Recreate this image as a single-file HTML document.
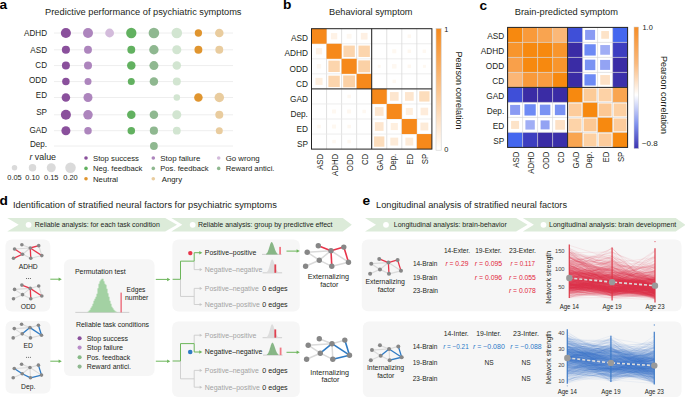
<!DOCTYPE html>
<html><head><meta charset="utf-8"><style>
html,body{margin:0;padding:0;background:#fff;}
svg{display:block;font-family:"Liberation Sans", sans-serif;}
</style></head><body>
<svg width="685" height="397" viewBox="0 0 685 397" font-family='"Liberation Sans", sans-serif'>
<rect width="685" height="397" fill="#fff"/>
<text x="-0.40" y="9.10" font-size="13" text-anchor="start" fill="#000" font-weight="bold" textLength="7.60" lengthAdjust="spacingAndGlyphs">a</text>
<text x="283.00" y="9.40" font-size="13" text-anchor="start" fill="#000" font-weight="bold" textLength="8.40" lengthAdjust="spacingAndGlyphs">b</text>
<text x="479.40" y="9.50" font-size="13" text-anchor="start" fill="#000" font-weight="bold" textLength="7.60" lengthAdjust="spacingAndGlyphs">c</text>
<text x="-0.40" y="204.90" font-size="13" text-anchor="start" fill="#000" font-weight="bold" textLength="8.40" lengthAdjust="spacingAndGlyphs">d</text>
<text x="362.40" y="205.00" font-size="13" text-anchor="start" fill="#000" font-weight="bold" textLength="7.60" lengthAdjust="spacingAndGlyphs">e</text>
<text x="45.10" y="14.60" font-size="9.2" text-anchor="start" fill="#231f20" textLength="196.40" lengthAdjust="spacingAndGlyphs">Predictive performance of psychiatric symptoms</text>
<line x1="54.00" y1="33.00" x2="233.00" y2="33.00" stroke="#eeeeee" stroke-width="1"/>
<text x="47.00" y="36.30" font-size="8.8" text-anchor="end" fill="#231f20" textLength="22.95" lengthAdjust="spacingAndGlyphs">ADHD</text>
<circle cx="65.90" cy="33.00" r="5.05" fill="#8a509c"/>
<circle cx="88.00" cy="33.00" r="5.00" fill="#ad85bd"/>
<circle cx="109.60" cy="33.00" r="4.40" fill="#d3bbdb"/>
<circle cx="131.30" cy="33.00" r="5.15" fill="#62b160"/>
<circle cx="153.90" cy="33.00" r="5.30" fill="#8fb890"/>
<circle cx="176.80" cy="33.00" r="5.30" fill="#d2e5d1"/>
<circle cx="198.40" cy="33.00" r="3.65" fill="#e0952f"/>
<circle cx="219.30" cy="33.00" r="4.25" fill="#e9cc9e"/>
<line x1="54.00" y1="49.80" x2="233.00" y2="49.80" stroke="#eeeeee" stroke-width="1"/>
<text x="47.00" y="53.10" font-size="8.8" text-anchor="end" fill="#231f20" textLength="16.65" lengthAdjust="spacingAndGlyphs">ASD</text>
<circle cx="65.90" cy="49.80" r="4.05" fill="#8a509c"/>
<circle cx="88.00" cy="49.80" r="3.95" fill="#ad85bd"/>
<circle cx="131.30" cy="49.80" r="3.95" fill="#62b160"/>
<circle cx="153.90" cy="49.80" r="4.70" fill="#8fb890"/>
<circle cx="176.80" cy="49.80" r="4.55" fill="#d2e5d1"/>
<circle cx="198.40" cy="49.80" r="3.95" fill="#e0952f"/>
<circle cx="219.30" cy="49.80" r="3.95" fill="#e9cc9e"/>
<line x1="54.00" y1="65.60" x2="233.00" y2="65.60" stroke="#eeeeee" stroke-width="1"/>
<text x="47.00" y="67.90" font-size="8.8" text-anchor="end" fill="#231f20" textLength="11.70" lengthAdjust="spacingAndGlyphs">CD</text>
<circle cx="65.90" cy="65.60" r="4.00" fill="#8a509c"/>
<circle cx="88.00" cy="65.60" r="4.00" fill="#ad85bd"/>
<circle cx="131.30" cy="65.60" r="4.25" fill="#62b160"/>
<circle cx="153.90" cy="65.60" r="4.50" fill="#8fb890"/>
<circle cx="176.80" cy="65.60" r="4.25" fill="#d2e5d1"/>
<line x1="54.00" y1="81.60" x2="233.00" y2="81.60" stroke="#eeeeee" stroke-width="1"/>
<text x="47.00" y="83.20" font-size="8.8" text-anchor="end" fill="#231f20" textLength="18.00" lengthAdjust="spacingAndGlyphs">ODD</text>
<circle cx="65.90" cy="81.60" r="3.75" fill="#8a509c"/>
<circle cx="88.00" cy="81.60" r="3.50" fill="#ad85bd"/>
<circle cx="131.30" cy="81.60" r="3.50" fill="#62b160"/>
<circle cx="153.90" cy="81.60" r="4.25" fill="#8fb890"/>
<circle cx="176.80" cy="81.60" r="4.00" fill="#d2e5d1"/>
<line x1="54.00" y1="97.50" x2="233.00" y2="97.50" stroke="#eeeeee" stroke-width="1"/>
<text x="47.00" y="98.40" font-size="8.8" text-anchor="end" fill="#231f20" textLength="11.25" lengthAdjust="spacingAndGlyphs">ED</text>
<circle cx="65.90" cy="97.50" r="4.25" fill="#8a509c"/>
<circle cx="88.00" cy="97.50" r="4.50" fill="#ad85bd"/>
<circle cx="176.80" cy="97.50" r="3.25" fill="#d2e5d1"/>
<circle cx="198.40" cy="97.50" r="4.25" fill="#e0952f"/>
<circle cx="219.30" cy="97.50" r="4.75" fill="#e9cc9e"/>
<line x1="54.00" y1="114.80" x2="233.00" y2="114.80" stroke="#eeeeee" stroke-width="1"/>
<text x="47.00" y="115.10" font-size="8.8" text-anchor="end" fill="#231f20" textLength="10.81" lengthAdjust="spacingAndGlyphs">SP</text>
<circle cx="65.90" cy="114.80" r="5.00" fill="#8a509c"/>
<circle cx="88.00" cy="114.80" r="4.75" fill="#ad85bd"/>
<circle cx="131.30" cy="114.80" r="4.25" fill="#62b160"/>
<circle cx="153.90" cy="114.80" r="4.25" fill="#8fb890"/>
<circle cx="176.80" cy="114.80" r="4.50" fill="#d2e5d1"/>
<circle cx="219.30" cy="114.80" r="4.00" fill="#e9cc9e"/>
<line x1="54.00" y1="130.70" x2="233.00" y2="130.70" stroke="#eeeeee" stroke-width="1"/>
<text x="47.00" y="133.00" font-size="8.8" text-anchor="end" fill="#231f20" textLength="17.55" lengthAdjust="spacingAndGlyphs">GAD</text>
<circle cx="65.90" cy="130.70" r="4.50" fill="#8a509c"/>
<circle cx="88.00" cy="130.70" r="3.75" fill="#ad85bd"/>
<circle cx="131.30" cy="130.70" r="3.75" fill="#62b160"/>
<circle cx="153.90" cy="130.70" r="4.10" fill="#8fb890"/>
<circle cx="176.80" cy="130.70" r="3.90" fill="#d2e5d1"/>
<circle cx="219.30" cy="130.70" r="3.50" fill="#e9cc9e"/>
<line x1="54.00" y1="146.00" x2="233.00" y2="146.00" stroke="#eeeeee" stroke-width="1"/>
<text x="47.00" y="147.20" font-size="8.8" text-anchor="end" fill="#231f20" textLength="17.11" lengthAdjust="spacingAndGlyphs">Dep.</text>
<circle cx="153.90" cy="146.00" r="3.90" fill="#8fb890"/>
<text x="29.50" y="160.20" font-size="8.9" text-anchor="start" fill="#231f20" font-style="italic">r</text>
<text x="34.80" y="160.20" font-size="8.9" text-anchor="start" fill="#231f20" textLength="21.20" lengthAdjust="spacingAndGlyphs">value</text>
<circle cx="14.50" cy="167.70" r="2.75" fill="#dadada"/>
<text x="14.50" y="180.20" font-size="7.4" text-anchor="middle" fill="#231f20" textLength="14.50" lengthAdjust="spacingAndGlyphs">0.05</text>
<circle cx="32.50" cy="167.70" r="3.75" fill="#dadada"/>
<text x="32.50" y="180.20" font-size="7.4" text-anchor="middle" fill="#231f20" textLength="14.50" lengthAdjust="spacingAndGlyphs">0.10</text>
<circle cx="51.25" cy="167.70" r="4.50" fill="#dadada"/>
<text x="51.25" y="180.20" font-size="7.4" text-anchor="middle" fill="#231f20" textLength="14.50" lengthAdjust="spacingAndGlyphs">0.15</text>
<circle cx="70.50" cy="167.70" r="5.25" fill="#dadada"/>
<text x="70.50" y="180.20" font-size="7.4" text-anchor="middle" fill="#231f20" textLength="14.50" lengthAdjust="spacingAndGlyphs">0.20</text>
<circle cx="86.00" cy="158.00" r="1.80" fill="#8a509c"/>
<text x="93.00" y="160.70" font-size="7.8" text-anchor="start" fill="#231f20" textLength="45.90" lengthAdjust="spacingAndGlyphs">Stop success</text>
<circle cx="86.00" cy="168.40" r="1.80" fill="#62b160"/>
<text x="93.00" y="171.10" font-size="7.8" text-anchor="start" fill="#231f20" textLength="49.40" lengthAdjust="spacingAndGlyphs">Neg. feedback</text>
<circle cx="86.00" cy="178.80" r="1.80" fill="#e0952f"/>
<text x="93.00" y="181.50" font-size="7.8" text-anchor="start" fill="#231f20" textLength="25.10" lengthAdjust="spacingAndGlyphs">Neutral</text>
<circle cx="153.30" cy="158.00" r="1.80" fill="#ad85bd"/>
<text x="160.30" y="160.70" font-size="7.8" text-anchor="start" fill="#231f20" textLength="40.00" lengthAdjust="spacingAndGlyphs">Stop failure</text>
<circle cx="153.30" cy="168.40" r="1.80" fill="#8fb890"/>
<text x="160.30" y="171.10" font-size="7.8" text-anchor="start" fill="#231f20" textLength="48.20" lengthAdjust="spacingAndGlyphs">Pos. feedback</text>
<circle cx="153.30" cy="178.80" r="1.80" fill="#e9cc9e"/>
<text x="161.70" y="181.50" font-size="7.8" text-anchor="start" fill="#231f20" textLength="20.40" lengthAdjust="spacingAndGlyphs">Angry</text>
<circle cx="218.70" cy="158.00" r="1.80" fill="#d3bbdb"/>
<text x="225.70" y="160.70" font-size="7.8" text-anchor="start" fill="#231f20" textLength="34.00" lengthAdjust="spacingAndGlyphs">Go wrong</text>
<circle cx="218.70" cy="168.40" r="1.80" fill="#8fb890"/>
<text x="225.70" y="171.10" font-size="7.8" text-anchor="start" fill="#231f20" textLength="48.80" lengthAdjust="spacingAndGlyphs">Reward antici.</text>
<text x="329.10" y="14.60" font-size="9.2" text-anchor="start" fill="#231f20" textLength="83.40" lengthAdjust="spacingAndGlyphs">Behavioral symptom</text>
<line x1="326.55" y1="28.70" x2="326.55" y2="149.10" stroke="#d9d9d9" stroke-width="0.8"/>
<line x1="311.50" y1="43.75" x2="431.90" y2="43.75" stroke="#e8e8e8" stroke-width="0.8"/>
<line x1="341.60" y1="28.70" x2="341.60" y2="149.10" stroke="#d9d9d9" stroke-width="0.8"/>
<line x1="311.50" y1="58.80" x2="431.90" y2="58.80" stroke="#e8e8e8" stroke-width="0.8"/>
<line x1="356.65" y1="28.70" x2="356.65" y2="149.10" stroke="#d9d9d9" stroke-width="0.8"/>
<line x1="311.50" y1="73.85" x2="431.90" y2="73.85" stroke="#e8e8e8" stroke-width="0.8"/>
<line x1="371.70" y1="28.70" x2="371.70" y2="149.10" stroke="#d9d9d9" stroke-width="0.8"/>
<line x1="311.50" y1="88.90" x2="431.90" y2="88.90" stroke="#e8e8e8" stroke-width="0.8"/>
<line x1="386.75" y1="28.70" x2="386.75" y2="149.10" stroke="#d9d9d9" stroke-width="0.8"/>
<line x1="311.50" y1="103.95" x2="431.90" y2="103.95" stroke="#e8e8e8" stroke-width="0.8"/>
<line x1="401.80" y1="28.70" x2="401.80" y2="149.10" stroke="#d9d9d9" stroke-width="0.8"/>
<line x1="311.50" y1="119.00" x2="431.90" y2="119.00" stroke="#e8e8e8" stroke-width="0.8"/>
<line x1="416.85" y1="28.70" x2="416.85" y2="149.10" stroke="#d9d9d9" stroke-width="0.8"/>
<line x1="311.50" y1="134.05" x2="431.90" y2="134.05" stroke="#e8e8e8" stroke-width="0.8"/>
<rect x="311.50" y="28.70" width="15.05" height="15.05" fill="#f6891b"/>
<rect x="330.93" y="33.08" width="6.30" height="6.30" fill="#fef2e6"/>
<rect x="346.73" y="33.83" width="4.80" height="4.80" fill="#fef8f1"/>
<rect x="360.82" y="32.88" width="6.70" height="6.70" fill="#fef0e3"/>
<rect x="407.57" y="34.48" width="3.50" height="3.50" fill="#fef8f1"/>
<rect x="315.88" y="48.12" width="6.30" height="6.30" fill="#fef2e6"/>
<rect x="326.55" y="43.75" width="15.05" height="15.05" fill="#f6891b"/>
<rect x="343.43" y="45.57" width="11.40" height="11.40" fill="#fcd5ad"/>
<rect x="358.47" y="45.57" width="11.40" height="11.40" fill="#fcd5ad"/>
<rect x="392.27" y="49.27" width="4.00" height="4.00" fill="#fef8f1"/>
<rect x="407.57" y="49.52" width="3.50" height="3.50" fill="#fef8f1"/>
<rect x="422.62" y="49.52" width="3.50" height="3.50" fill="#fef8f1"/>
<rect x="316.82" y="64.12" width="4.40" height="4.40" fill="#fef8f1"/>
<rect x="328.38" y="60.62" width="11.40" height="11.40" fill="#fcd5ad"/>
<rect x="341.60" y="58.80" width="15.05" height="15.05" fill="#f6891b"/>
<rect x="358.22" y="60.38" width="11.90" height="11.90" fill="#fbd1a6"/>
<rect x="377.72" y="64.83" width="3.00" height="3.00" fill="#fef8f1"/>
<rect x="392.02" y="64.08" width="4.50" height="4.50" fill="#fef8f1"/>
<rect x="407.57" y="64.58" width="3.50" height="3.50" fill="#fef8f1"/>
<rect x="422.88" y="64.83" width="3.00" height="3.00" fill="#fef8f1"/>
<rect x="315.47" y="77.83" width="7.10" height="7.10" fill="#feefdf"/>
<rect x="328.38" y="75.68" width="11.40" height="11.40" fill="#fcd5ad"/>
<rect x="343.18" y="75.43" width="11.90" height="11.90" fill="#fbd1a6"/>
<rect x="356.65" y="73.85" width="15.05" height="15.05" fill="#f6891b"/>
<rect x="392.52" y="79.63" width="3.50" height="3.50" fill="#fef8f1"/>
<rect x="347.38" y="94.68" width="3.50" height="3.50" fill="#fef8f1"/>
<rect x="371.70" y="88.90" width="15.05" height="15.05" fill="#f6891b"/>
<rect x="389.92" y="92.08" width="8.70" height="8.70" fill="#fde6cf"/>
<rect x="404.97" y="92.08" width="8.70" height="8.70" fill="#fde6cf"/>
<rect x="419.23" y="91.28" width="10.30" height="10.30" fill="#fcddbc"/>
<rect x="332.07" y="109.48" width="4.00" height="4.00" fill="#fef8f1"/>
<rect x="347.12" y="109.48" width="4.00" height="4.00" fill="#fef8f1"/>
<rect x="362.42" y="109.73" width="3.50" height="3.50" fill="#fef8f1"/>
<rect x="374.87" y="107.13" width="8.70" height="8.70" fill="#fde6cf"/>
<rect x="386.75" y="103.95" width="15.05" height="15.05" fill="#f6891b"/>
<rect x="405.77" y="107.93" width="7.10" height="7.10" fill="#feefdf"/>
<rect x="420.57" y="107.68" width="7.60" height="7.60" fill="#feecdb"/>
<rect x="317.27" y="124.78" width="3.50" height="3.50" fill="#fef8f1"/>
<rect x="332.07" y="124.53" width="4.00" height="4.00" fill="#fef8f1"/>
<rect x="347.38" y="124.78" width="3.50" height="3.50" fill="#fef8f1"/>
<rect x="374.87" y="122.18" width="8.70" height="8.70" fill="#fde6cf"/>
<rect x="390.72" y="122.98" width="7.10" height="7.10" fill="#feefdf"/>
<rect x="401.80" y="119.00" width="15.05" height="15.05" fill="#f6891b"/>
<rect x="420.43" y="122.58" width="7.90" height="7.90" fill="#fdebd8"/>
<rect x="332.32" y="139.83" width="3.50" height="3.50" fill="#fef8f1"/>
<rect x="347.38" y="139.83" width="3.50" height="3.50" fill="#fef8f1"/>
<rect x="374.07" y="136.43" width="10.30" height="10.30" fill="#fcddbc"/>
<rect x="390.32" y="137.63" width="7.90" height="7.90" fill="#fdebd8"/>
<rect x="405.38" y="137.63" width="7.90" height="7.90" fill="#fdebd8"/>
<rect x="416.85" y="134.05" width="15.05" height="15.05" fill="#f6891b"/>
<rect x="311.5" y="28.7" width="120.4" height="120.4" fill="none" stroke="#222" stroke-width="1"/>
<line x1="371.70" y1="28.70" x2="371.70" y2="149.10" stroke="#222" stroke-width="1"/>
<line x1="311.50" y1="88.90" x2="431.90" y2="88.90" stroke="#222" stroke-width="1"/>
<text x="307.90" y="41.43" font-size="8.9" text-anchor="end" fill="#231f20" textLength="16.98" lengthAdjust="spacingAndGlyphs">ASD</text>
<text transform="translate(322.72,153.8) rotate(-90)" font-size="8.5" text-anchor="end" fill="#231f20" textLength="16.04" lengthAdjust="spacingAndGlyphs">ASD</text>
<text x="307.90" y="56.48" font-size="8.9" text-anchor="end" fill="#231f20" textLength="23.40" lengthAdjust="spacingAndGlyphs">ADHD</text>
<text transform="translate(337.77,153.8) rotate(-90)" font-size="8.5" text-anchor="end" fill="#231f20" textLength="22.10" lengthAdjust="spacingAndGlyphs">ADHD</text>
<text x="307.90" y="71.53" font-size="8.9" text-anchor="end" fill="#231f20" textLength="18.36" lengthAdjust="spacingAndGlyphs">ODD</text>
<text transform="translate(352.82,153.8) rotate(-90)" font-size="8.5" text-anchor="end" fill="#231f20" textLength="17.33" lengthAdjust="spacingAndGlyphs">ODD</text>
<text x="307.90" y="86.58" font-size="8.9" text-anchor="end" fill="#231f20" textLength="11.93" lengthAdjust="spacingAndGlyphs">CD</text>
<text transform="translate(367.87,153.8) rotate(-90)" font-size="8.5" text-anchor="end" fill="#231f20" textLength="11.27" lengthAdjust="spacingAndGlyphs">CD</text>
<text x="307.90" y="101.63" font-size="8.9" text-anchor="end" fill="#231f20" textLength="17.90" lengthAdjust="spacingAndGlyphs">GAD</text>
<text transform="translate(382.92,153.8) rotate(-90)" font-size="8.5" text-anchor="end" fill="#231f20" textLength="16.90" lengthAdjust="spacingAndGlyphs">GAD</text>
<text x="307.90" y="116.68" font-size="8.9" text-anchor="end" fill="#231f20" textLength="17.45" lengthAdjust="spacingAndGlyphs">Dep.</text>
<text transform="translate(395.57,153.8) rotate(-90)" font-size="8.5" text-anchor="end" fill="#231f20" textLength="16.48" lengthAdjust="spacingAndGlyphs">Dep.</text>
<text x="307.90" y="131.73" font-size="8.9" text-anchor="end" fill="#231f20" textLength="11.47" lengthAdjust="spacingAndGlyphs">ED</text>
<text transform="translate(413.02,153.8) rotate(-90)" font-size="8.5" text-anchor="end" fill="#231f20" textLength="10.84" lengthAdjust="spacingAndGlyphs">ED</text>
<text x="307.90" y="146.78" font-size="8.9" text-anchor="end" fill="#231f20" textLength="11.02" lengthAdjust="spacingAndGlyphs">SP</text>
<text transform="translate(428.07,153.8) rotate(-90)" font-size="8.5" text-anchor="end" fill="#231f20" textLength="10.41" lengthAdjust="spacingAndGlyphs">SP</text>
<defs><linearGradient id="gb" x1="0" y1="0" x2="0" y2="1"><stop offset="0" stop-color="#f6891b"/><stop offset="1" stop-color="#ffffff"/></linearGradient><linearGradient id="gc" x1="0" y1="0" x2="0" y2="1"><stop offset="0" stop-color="#f68d26"/><stop offset="0.3" stop-color="#fab97c"/><stop offset="0.56" stop-color="#ffffff"/><stop offset="0.8" stop-color="#8092ee"/><stop offset="1" stop-color="#3b33b0"/></linearGradient></defs>
<rect x="436" y="28.5" width="5.2" height="121.7" fill="url(#gb)" stroke="#cfcfcf" stroke-width="0.6"/>
<text x="444.30" y="31.90" font-size="7.4" text-anchor="start" fill="#231f20">1</text>
<text x="444.30" y="151.80" font-size="7.4" text-anchor="start" fill="#231f20">0</text>
<text transform="translate(456.0,90.6) rotate(90)" font-size="9" text-anchor="middle" fill="#231f20" textLength="78" lengthAdjust="spacingAndGlyphs">Pearson correlation</text>
<text x="514.80" y="14.60" font-size="9.2" text-anchor="start" fill="#231f20" textLength="103.20" lengthAdjust="spacingAndGlyphs">Brain-predicted symptom</text>
<rect x="507.60" y="27.40" width="15.00" height="15.00" fill="#f7890f"/>
<rect x="522.60" y="27.40" width="15.00" height="15.00" fill="#f99a3a"/>
<rect x="537.60" y="27.40" width="15.00" height="15.00" fill="#f9a450"/>
<rect x="552.60" y="27.40" width="15.00" height="15.00" fill="#fbb878"/>
<rect x="567.60" y="27.40" width="15.00" height="15.00" fill="#3f4fd8"/>
<rect x="585.10" y="29.90" width="10.00" height="10.00" fill="#8a9bf3"/>
<rect x="601.25" y="31.05" width="7.70" height="7.70" fill="#fde3c8"/>
<rect x="612.60" y="27.40" width="15.00" height="15.00" fill="#4467ef"/>
<rect x="507.60" y="42.40" width="15.00" height="15.00" fill="#f8952c"/>
<rect x="522.60" y="42.40" width="15.00" height="15.00" fill="#f7890f"/>
<rect x="537.60" y="42.40" width="15.00" height="15.00" fill="#f7890f"/>
<rect x="552.60" y="42.40" width="15.00" height="15.00" fill="#f8952c"/>
<rect x="567.60" y="42.40" width="15.00" height="15.00" fill="#3a2ca5"/>
<rect x="584.45" y="44.25" width="11.30" height="11.30" fill="#6d8af5"/>
<rect x="600.25" y="45.05" width="9.70" height="9.70" fill="#a0aef5"/>
<rect x="612.60" y="42.40" width="15.00" height="15.00" fill="#3d3ec0"/>
<rect x="507.60" y="57.40" width="15.00" height="15.00" fill="#f9a04a"/>
<rect x="522.60" y="57.40" width="15.00" height="15.00" fill="#f7890f"/>
<rect x="537.60" y="57.40" width="15.00" height="15.00" fill="#f7890f"/>
<rect x="552.60" y="57.40" width="15.00" height="15.00" fill="#f8952c"/>
<rect x="567.60" y="57.40" width="15.00" height="15.00" fill="#3a2ca5"/>
<rect x="584.85" y="59.65" width="10.50" height="10.50" fill="#7a93f3"/>
<rect x="600.10" y="59.90" width="10.00" height="10.00" fill="#93a3f3"/>
<rect x="612.60" y="57.40" width="15.00" height="15.00" fill="#3a2ca5"/>
<rect x="507.60" y="72.40" width="15.00" height="15.00" fill="#fbb676"/>
<rect x="522.60" y="72.40" width="15.00" height="15.00" fill="#f99a3a"/>
<rect x="537.60" y="72.40" width="15.00" height="15.00" fill="#f99d40"/>
<rect x="552.60" y="72.40" width="15.00" height="15.00" fill="#f7890f"/>
<rect x="567.60" y="72.40" width="15.00" height="15.00" fill="#3a2ca5"/>
<rect x="584.45" y="74.25" width="11.30" height="11.30" fill="#6d8af5"/>
<rect x="600.25" y="75.05" width="9.70" height="9.70" fill="#fde1c6"/>
<rect x="612.60" y="72.40" width="15.00" height="15.00" fill="#3b30aa"/>
<rect x="507.60" y="87.40" width="15.00" height="15.00" fill="#3f4fd8"/>
<rect x="522.60" y="87.40" width="15.00" height="15.00" fill="#3a2ca5"/>
<rect x="537.60" y="87.40" width="15.00" height="15.00" fill="#3a2ca5"/>
<rect x="552.60" y="87.40" width="15.00" height="15.00" fill="#3a2ca5"/>
<rect x="567.60" y="87.40" width="15.00" height="15.00" fill="#f7890f"/>
<rect x="583.65" y="88.45" width="12.90" height="12.90" fill="#fccb98"/>
<rect x="598.65" y="88.45" width="12.90" height="12.90" fill="#fdd2a6"/>
<rect x="612.60" y="87.40" width="15.00" height="15.00" fill="#f9a550"/>
<rect x="510.10" y="104.90" width="10.00" height="10.00" fill="#8a9bf3"/>
<rect x="524.45" y="104.25" width="11.30" height="11.30" fill="#6d8af5"/>
<rect x="539.85" y="104.65" width="10.50" height="10.50" fill="#7a93f3"/>
<rect x="554.85" y="104.65" width="10.50" height="10.50" fill="#7891f3"/>
<rect x="568.65" y="103.45" width="12.90" height="12.90" fill="#fdcc9c"/>
<rect x="582.60" y="102.40" width="15.00" height="15.00" fill="#f7890f"/>
<rect x="598.65" y="103.45" width="12.90" height="12.90" fill="#fcc894"/>
<rect x="613.65" y="103.45" width="12.90" height="12.90" fill="#fdd0a2"/>
<rect x="511.10" y="120.90" width="8.00" height="8.00" fill="#fde3c8"/>
<rect x="525.40" y="120.20" width="9.40" height="9.40" fill="#a0aef5"/>
<rect x="540.60" y="120.40" width="9.00" height="9.00" fill="#93a3f3"/>
<rect x="555.25" y="120.05" width="9.70" height="9.70" fill="#fde1c6"/>
<rect x="568.65" y="118.45" width="12.90" height="12.90" fill="#fdd3a8"/>
<rect x="583.65" y="118.45" width="12.90" height="12.90" fill="#fcc894"/>
<rect x="597.60" y="117.40" width="15.00" height="15.00" fill="#f7890f"/>
<rect x="613.65" y="118.45" width="12.90" height="12.90" fill="#fdcc9c"/>
<rect x="507.60" y="132.40" width="15.00" height="15.00" fill="#4467ef"/>
<rect x="522.60" y="132.40" width="15.00" height="15.00" fill="#3d3ec0"/>
<rect x="537.60" y="132.40" width="15.00" height="15.00" fill="#3a2ca5"/>
<rect x="552.60" y="132.40" width="15.00" height="15.00" fill="#3b30aa"/>
<rect x="567.60" y="132.40" width="15.00" height="15.00" fill="#f9a550"/>
<rect x="583.65" y="133.45" width="12.90" height="12.90" fill="#fdd0a2"/>
<rect x="598.65" y="133.45" width="12.90" height="12.90" fill="#fdcc9c"/>
<rect x="612.60" y="132.40" width="15.00" height="15.00" fill="#f7890f"/>
<line x1="522.60" y1="27.40" x2="522.60" y2="147.40" stroke="#d4d4d4" stroke-width="0.8" stroke-opacity="0.8"/>
<line x1="507.60" y1="42.40" x2="627.60" y2="42.40" stroke="#d4d4d4" stroke-width="0.8" stroke-opacity="0.8"/>
<line x1="537.60" y1="27.40" x2="537.60" y2="147.40" stroke="#d4d4d4" stroke-width="0.8" stroke-opacity="0.8"/>
<line x1="507.60" y1="57.40" x2="627.60" y2="57.40" stroke="#d4d4d4" stroke-width="0.8" stroke-opacity="0.8"/>
<line x1="552.60" y1="27.40" x2="552.60" y2="147.40" stroke="#d4d4d4" stroke-width="0.8" stroke-opacity="0.8"/>
<line x1="507.60" y1="72.40" x2="627.60" y2="72.40" stroke="#d4d4d4" stroke-width="0.8" stroke-opacity="0.8"/>
<line x1="567.60" y1="27.40" x2="567.60" y2="147.40" stroke="#d4d4d4" stroke-width="0.8" stroke-opacity="0.8"/>
<line x1="507.60" y1="87.40" x2="627.60" y2="87.40" stroke="#d4d4d4" stroke-width="0.8" stroke-opacity="0.8"/>
<line x1="582.60" y1="27.40" x2="582.60" y2="147.40" stroke="#d4d4d4" stroke-width="0.8" stroke-opacity="0.8"/>
<line x1="507.60" y1="102.40" x2="627.60" y2="102.40" stroke="#d4d4d4" stroke-width="0.8" stroke-opacity="0.8"/>
<line x1="597.60" y1="27.40" x2="597.60" y2="147.40" stroke="#d4d4d4" stroke-width="0.8" stroke-opacity="0.8"/>
<line x1="507.60" y1="117.40" x2="627.60" y2="117.40" stroke="#d4d4d4" stroke-width="0.8" stroke-opacity="0.8"/>
<line x1="612.60" y1="27.40" x2="612.60" y2="147.40" stroke="#d4d4d4" stroke-width="0.8" stroke-opacity="0.8"/>
<line x1="507.60" y1="132.40" x2="627.60" y2="132.40" stroke="#d4d4d4" stroke-width="0.8" stroke-opacity="0.8"/>
<rect x="507.6" y="27.4" width="120" height="120" fill="none" stroke="#222" stroke-width="1"/>
<line x1="567.60" y1="27.40" x2="567.60" y2="147.40" stroke="#222" stroke-width="1"/>
<line x1="507.60" y1="87.40" x2="627.60" y2="87.40" stroke="#222" stroke-width="1"/>
<text x="504.20" y="39.40" font-size="8.9" text-anchor="end" fill="#231f20" textLength="16.98" lengthAdjust="spacingAndGlyphs">ASD</text>
<text transform="translate(519.00,151.7) rotate(-90)" font-size="8.3" text-anchor="end" fill="#231f20" textLength="16.04" lengthAdjust="spacingAndGlyphs">ASD</text>
<text x="504.20" y="54.40" font-size="8.9" text-anchor="end" fill="#231f20" textLength="23.40" lengthAdjust="spacingAndGlyphs">ADHD</text>
<text transform="translate(534.00,151.7) rotate(-90)" font-size="8.3" text-anchor="end" fill="#231f20" textLength="22.10" lengthAdjust="spacingAndGlyphs">ADHD</text>
<text x="504.20" y="69.40" font-size="8.9" text-anchor="end" fill="#231f20" textLength="18.36" lengthAdjust="spacingAndGlyphs">ODD</text>
<text transform="translate(549.00,151.7) rotate(-90)" font-size="8.3" text-anchor="end" fill="#231f20" textLength="17.33" lengthAdjust="spacingAndGlyphs">ODD</text>
<text x="504.20" y="84.40" font-size="8.9" text-anchor="end" fill="#231f20" textLength="11.93" lengthAdjust="spacingAndGlyphs">CD</text>
<text transform="translate(564.00,151.7) rotate(-90)" font-size="8.3" text-anchor="end" fill="#231f20" textLength="11.27" lengthAdjust="spacingAndGlyphs">CD</text>
<text x="504.20" y="99.40" font-size="8.9" text-anchor="end" fill="#231f20" textLength="17.90" lengthAdjust="spacingAndGlyphs">GAD</text>
<text transform="translate(579.00,151.7) rotate(-90)" font-size="8.3" text-anchor="end" fill="#231f20" textLength="16.90" lengthAdjust="spacingAndGlyphs">GAD</text>
<text x="504.20" y="114.40" font-size="8.9" text-anchor="end" fill="#231f20" textLength="17.45" lengthAdjust="spacingAndGlyphs">Dep.</text>
<text transform="translate(591.60,151.7) rotate(-90)" font-size="8.3" text-anchor="end" fill="#231f20" textLength="16.48" lengthAdjust="spacingAndGlyphs">Dep.</text>
<text x="504.20" y="129.40" font-size="8.9" text-anchor="end" fill="#231f20" textLength="11.47" lengthAdjust="spacingAndGlyphs">ED</text>
<text transform="translate(609.00,151.7) rotate(-90)" font-size="8.3" text-anchor="end" fill="#231f20" textLength="10.84" lengthAdjust="spacingAndGlyphs">ED</text>
<text x="504.20" y="144.40" font-size="8.9" text-anchor="end" fill="#231f20" textLength="11.02" lengthAdjust="spacingAndGlyphs">SP</text>
<text transform="translate(624.00,151.7) rotate(-90)" font-size="8.3" text-anchor="end" fill="#231f20" textLength="10.41" lengthAdjust="spacingAndGlyphs">SP</text>
<rect x="634" y="27" width="4.6" height="121.5" fill="url(#gc)" stroke="#cfcfcf" stroke-width="0.5"/>
<text x="642.50" y="30.40" font-size="7.4" text-anchor="start" fill="#231f20">1.0</text>
<text x="641.80" y="145.90" font-size="7.4" text-anchor="start" fill="#231f20" textLength="16.00" lengthAdjust="spacingAndGlyphs">−0.8</text>
<text transform="translate(661.0,95.1) rotate(90)" font-size="9" text-anchor="middle" fill="#231f20" textLength="78" lengthAdjust="spacingAndGlyphs">Pearson correlation</text>
<polygon points="7.2,218 165.2,218 177,224.8 165.2,231.6 7.2,231.6 18.7,224.8" fill="#dcebd9"/>
<circle cx="28.60" cy="224.80" r="2.90" fill="#ffffff"/>
<text x="34.80" y="226.80" font-size="6.9" text-anchor="start" fill="#231f20" textLength="125.00" lengthAdjust="spacingAndGlyphs">Reliable analysis: for each task condition</text>
<polygon points="171.3,218 342.8,218 351.8,224.8 342.8,231.6 171.3,231.6 182.3,224.8" fill="#dcebd9"/>
<circle cx="192.70" cy="224.80" r="2.90" fill="#ffffff"/>
<text x="197.90" y="226.80" font-size="6.9" text-anchor="start" fill="#231f20" textLength="134.60" lengthAdjust="spacingAndGlyphs">Reliable analysis: group by predictive effect</text>
<polygon points="365,218 516.1,218 527.5,224.8 516.1,231.6 365,231.6 376,224.8" fill="#dcebd9"/>
<circle cx="386.00" cy="224.80" r="2.90" fill="#ffffff"/>
<text x="393.80" y="226.80" font-size="6.9" text-anchor="start" fill="#231f20" textLength="113.00" lengthAdjust="spacingAndGlyphs">Longitudinal analysis: brain-behavior</text>
<polygon points="522.8,218 675.7,218 685.5,224.8 675.7,231.6 522.8,231.6 533.9,224.8" fill="#dcebd9"/>
<circle cx="543.50" cy="224.80" r="2.90" fill="#ffffff"/>
<text x="549.00" y="226.80" font-size="6.9" text-anchor="start" fill="#231f20" textLength="127.30" lengthAdjust="spacingAndGlyphs">Longitudinal analysis: brain development</text>
<text x="12.90" y="207.50" font-size="9.2" text-anchor="start" fill="#231f20" textLength="264.00" lengthAdjust="spacingAndGlyphs">Identification of stratified neural factors for psychiatric symptoms</text>
<text x="376.10" y="207.50" font-size="9.2" text-anchor="start" fill="#231f20" textLength="190.90" lengthAdjust="spacingAndGlyphs">Longitudinal analysis of stratified neural factors</text>
<rect x="5.5" y="239.5" width="44.8" height="72.0" rx="6" fill="#f6f6f6"/>
<rect x="5.6" y="321" width="44.9" height="72.60000000000002" rx="6" fill="#f6f6f6"/>
<rect x="64" y="259.2" width="90.5" height="116.80000000000001" rx="6" fill="#f6f6f6"/>
<rect x="172.4" y="239.5" width="127.4" height="72.0" rx="6" fill="#f6f6f6"/>
<rect x="172.2" y="321.4" width="127.60000000000002" height="75.5" rx="6" fill="#f6f6f6"/>
<line x1="14.56" y1="248.99" x2="30.26" y2="248.00" stroke="#dadada" stroke-width="1.1"/>
<line x1="21.88" y1="244.70" x2="30.26" y2="248.00" stroke="#dadada" stroke-width="1.1"/>
<line x1="22.54" y1="254.27" x2="30.26" y2="248.00" stroke="#dadada" stroke-width="1.1"/>
<line x1="22.54" y1="254.27" x2="30.79" y2="258.30" stroke="#dadada" stroke-width="1.1"/>
<line x1="30.79" y1="258.30" x2="41.81" y2="255.59" stroke="#dadada" stroke-width="1.1"/>
<line x1="38.71" y1="245.63" x2="41.81" y2="255.59" stroke="#dadada" stroke-width="1.1"/>
<line x1="14.56" y1="248.99" x2="22.54" y2="254.27" stroke="#e8344a" stroke-width="1.3"/>
<line x1="13.50" y1="258.30" x2="22.54" y2="254.27" stroke="#e8344a" stroke-width="1.3"/>
<line x1="30.26" y1="248.00" x2="38.71" y2="245.63" stroke="#e8344a" stroke-width="1.3"/>
<line x1="30.26" y1="248.00" x2="41.81" y2="255.59" stroke="#e8344a" stroke-width="1.3"/>
<line x1="30.26" y1="248.00" x2="30.79" y2="258.30" stroke="#e8344a" stroke-width="1.3"/>
<circle cx="14.56" cy="248.99" r="1.80" fill="#878787"/>
<circle cx="21.88" cy="244.70" r="1.80" fill="#878787"/>
<circle cx="30.26" cy="248.00" r="1.80" fill="#878787"/>
<circle cx="38.71" cy="245.63" r="1.80" fill="#878787"/>
<circle cx="22.54" cy="254.27" r="1.80" fill="#878787"/>
<circle cx="13.50" cy="258.30" r="1.80" fill="#878787"/>
<circle cx="30.79" cy="258.30" r="1.80" fill="#878787"/>
<circle cx="41.81" cy="255.59" r="1.80" fill="#878787"/>
<line x1="14.56" y1="289.39" x2="30.26" y2="288.40" stroke="#dadada" stroke-width="1.1"/>
<line x1="30.26" y1="288.40" x2="38.71" y2="286.03" stroke="#dadada" stroke-width="1.1"/>
<line x1="14.56" y1="289.39" x2="22.54" y2="294.67" stroke="#dadada" stroke-width="1.1"/>
<line x1="13.50" y1="298.70" x2="22.54" y2="294.67" stroke="#dadada" stroke-width="1.1"/>
<line x1="22.54" y1="294.67" x2="30.26" y2="288.40" stroke="#dadada" stroke-width="1.1"/>
<line x1="22.54" y1="294.67" x2="30.79" y2="298.70" stroke="#dadada" stroke-width="1.1"/>
<line x1="30.79" y1="298.70" x2="41.81" y2="295.99" stroke="#dadada" stroke-width="1.1"/>
<line x1="38.71" y1="286.03" x2="41.81" y2="295.99" stroke="#dadada" stroke-width="1.1"/>
<line x1="21.88" y1="285.10" x2="30.26" y2="288.40" stroke="#e8344a" stroke-width="1.3"/>
<line x1="30.26" y1="288.40" x2="30.79" y2="298.70" stroke="#e8344a" stroke-width="1.3"/>
<line x1="30.26" y1="288.40" x2="41.81" y2="295.99" stroke="#e8344a" stroke-width="1.3"/>
<circle cx="14.56" cy="289.39" r="1.80" fill="#878787"/>
<circle cx="21.88" cy="285.10" r="1.80" fill="#878787"/>
<circle cx="30.26" cy="288.40" r="1.80" fill="#878787"/>
<circle cx="38.71" cy="286.03" r="1.80" fill="#878787"/>
<circle cx="22.54" cy="294.67" r="1.80" fill="#878787"/>
<circle cx="13.50" cy="298.70" r="1.80" fill="#878787"/>
<circle cx="30.79" cy="298.70" r="1.80" fill="#878787"/>
<circle cx="41.81" cy="295.99" r="1.80" fill="#878787"/>
<line x1="14.26" y1="328.59" x2="29.96" y2="327.60" stroke="#dadada" stroke-width="1.1"/>
<line x1="21.58" y1="324.30" x2="29.96" y2="327.60" stroke="#dadada" stroke-width="1.1"/>
<line x1="29.96" y1="327.60" x2="38.41" y2="325.23" stroke="#dadada" stroke-width="1.1"/>
<line x1="14.26" y1="328.59" x2="22.24" y2="333.87" stroke="#dadada" stroke-width="1.1"/>
<line x1="13.20" y1="337.90" x2="22.24" y2="333.87" stroke="#dadada" stroke-width="1.1"/>
<line x1="22.24" y1="333.87" x2="30.49" y2="337.90" stroke="#dadada" stroke-width="1.1"/>
<line x1="29.96" y1="327.60" x2="30.49" y2="337.90" stroke="#dadada" stroke-width="1.1"/>
<line x1="30.49" y1="337.90" x2="41.51" y2="335.19" stroke="#dadada" stroke-width="1.1"/>
<line x1="22.24" y1="333.87" x2="29.96" y2="327.60" stroke="#2f7bc4" stroke-width="1.3"/>
<line x1="29.96" y1="327.60" x2="41.51" y2="335.19" stroke="#2f7bc4" stroke-width="1.3"/>
<line x1="38.41" y1="325.23" x2="41.51" y2="335.19" stroke="#2f7bc4" stroke-width="1.3"/>
<circle cx="14.26" cy="328.59" r="1.80" fill="#878787"/>
<circle cx="21.58" cy="324.30" r="1.80" fill="#878787"/>
<circle cx="29.96" cy="327.60" r="1.80" fill="#878787"/>
<circle cx="38.41" cy="325.23" r="1.80" fill="#878787"/>
<circle cx="22.24" cy="333.87" r="1.80" fill="#878787"/>
<circle cx="13.20" cy="337.90" r="1.80" fill="#878787"/>
<circle cx="30.49" cy="337.90" r="1.80" fill="#878787"/>
<circle cx="41.51" cy="335.19" r="1.80" fill="#878787"/>
<line x1="14.26" y1="368.49" x2="29.96" y2="367.50" stroke="#dadada" stroke-width="1.1"/>
<line x1="21.58" y1="364.20" x2="29.96" y2="367.50" stroke="#dadada" stroke-width="1.1"/>
<line x1="29.96" y1="367.50" x2="38.41" y2="365.13" stroke="#dadada" stroke-width="1.1"/>
<line x1="13.20" y1="377.80" x2="22.24" y2="373.77" stroke="#dadada" stroke-width="1.1"/>
<line x1="22.24" y1="373.77" x2="29.96" y2="367.50" stroke="#dadada" stroke-width="1.1"/>
<line x1="29.96" y1="367.50" x2="30.49" y2="377.80" stroke="#dadada" stroke-width="1.1"/>
<line x1="29.96" y1="367.50" x2="41.51" y2="375.09" stroke="#dadada" stroke-width="1.1"/>
<line x1="14.26" y1="368.49" x2="22.24" y2="373.77" stroke="#2f7bc4" stroke-width="1.3"/>
<line x1="22.24" y1="373.77" x2="30.49" y2="377.80" stroke="#2f7bc4" stroke-width="1.3"/>
<line x1="30.49" y1="377.80" x2="41.51" y2="375.09" stroke="#2f7bc4" stroke-width="1.3"/>
<line x1="38.41" y1="365.13" x2="41.51" y2="375.09" stroke="#2f7bc4" stroke-width="1.3"/>
<circle cx="14.26" cy="368.49" r="1.80" fill="#878787"/>
<circle cx="21.58" cy="364.20" r="1.80" fill="#878787"/>
<circle cx="29.96" cy="367.50" r="1.80" fill="#878787"/>
<circle cx="38.41" cy="365.13" r="1.80" fill="#878787"/>
<circle cx="22.24" cy="373.77" r="1.80" fill="#878787"/>
<circle cx="13.20" cy="377.80" r="1.80" fill="#878787"/>
<circle cx="30.49" cy="377.80" r="1.80" fill="#878787"/>
<circle cx="41.51" cy="375.09" r="1.80" fill="#878787"/>
<text x="28.20" y="268.60" font-size="7.0" text-anchor="middle" fill="#231f20" textLength="19.13" lengthAdjust="spacingAndGlyphs">ADHD</text>
<text x="28.20" y="308.90" font-size="7.0" text-anchor="middle" fill="#231f20" textLength="15.00" lengthAdjust="spacingAndGlyphs">ODD</text>
<text x="28.20" y="347.90" font-size="7.0" text-anchor="middle" fill="#231f20" textLength="9.38" lengthAdjust="spacingAndGlyphs">ED</text>
<text x="28.20" y="388.70" font-size="7.0" text-anchor="middle" fill="#231f20" textLength="14.26" lengthAdjust="spacingAndGlyphs">Dep.</text>
<circle cx="26.50" cy="278.50" r="0.57" fill="#555"/>
<circle cx="28.45" cy="278.50" r="0.57" fill="#555"/>
<circle cx="30.40" cy="278.50" r="0.57" fill="#555"/>
<circle cx="26.50" cy="357.30" r="0.57" fill="#555"/>
<circle cx="28.45" cy="357.30" r="0.57" fill="#555"/>
<circle cx="30.40" cy="357.30" r="0.57" fill="#555"/>
<line x1="50.30" y1="279.20" x2="59.10" y2="279.20" stroke="#6cb55a" stroke-width="1.0"/>
<polygon points="61.8,279.2 58.599999999999994,277.44 58.599999999999994,280.96" fill="#6cb55a"/>
<line x1="50.30" y1="361.20" x2="59.10" y2="361.20" stroke="#6cb55a" stroke-width="1.0"/>
<polygon points="61.8,361.2 58.599999999999994,359.44 58.599999999999994,362.96" fill="#6cb55a"/>
<line x1="155.80" y1="279.40" x2="167.60" y2="279.40" stroke="#6cb55a" stroke-width="1.0"/>
<polygon points="170.3,279.4 167.10000000000002,277.64 167.10000000000002,281.15999999999997" fill="#6cb55a"/>
<line x1="155.80" y1="361.20" x2="167.60" y2="361.20" stroke="#6cb55a" stroke-width="1.0"/>
<polygon points="170.3,361.2 167.10000000000002,359.44 167.10000000000002,362.96" fill="#6cb55a"/>
<line x1="286.50" y1="251.10" x2="297.10" y2="251.10" stroke="#6cb55a" stroke-width="1.0"/>
<polygon points="299.8,251.1 296.6,249.34 296.6,252.85999999999999" fill="#6cb55a"/>
<line x1="286.50" y1="352.30" x2="297.10" y2="352.30" stroke="#6cb55a" stroke-width="1.0"/>
<polygon points="299.8,352.3 296.6,350.54 296.6,354.06" fill="#6cb55a"/>
<text x="74.90" y="273.70" font-size="7" text-anchor="start" fill="#231f20" textLength="50.80" lengthAdjust="spacingAndGlyphs">Permutation test</text>
<line x1="75.30" y1="312.40" x2="129.30" y2="312.40" stroke="#bdbdbd" stroke-width="0.7"/>
<polygon points="87.5,312.3 87.5,311.8 88.5,311.8 88.5,310.8 89.5,310.8 89.5,309.8 90.5,309.8 90.5,307.8 91.5,307.8 91.5,306.3 92.5,306.3 92.5,303.8 93.5,303.8 93.5,300.8 94.5,300.8 94.5,298.8 95.5,298.8 95.5,296.8 96.5,296.8 96.5,293.8 97.5,293.8 97.5,288.3 98.5,288.3 98.5,283.8 99.5,283.8 99.5,281.3 100.5,281.3 100.5,279.8 101.5,279.8 101.5,278.8 102.5,278.8 102.5,278.8 103.5,278.8 103.5,281.3 104.5,281.3 104.5,283.8 105.5,283.8 105.5,284.8 106.5,284.8 106.5,288.8 107.5,288.8 107.5,293.3 108.5,293.3 108.5,296.8 109.5,296.8 109.5,300.8 110.5,300.8 110.5,303.8 111.5,303.8 111.5,306.8 112.5,306.8 112.5,308.3 113.5,308.3 113.5,309.8 114.5,309.8 114.5,310.8 115.5,310.8 115.5,311.5 116.5,311.5 116.5,312.0 117.5,312.0 117.5,312.3" fill="#a9d7a9"/>
<line x1="90.00" y1="310.30" x2="90.00" y2="312.30" stroke="#86bd86" stroke-width="0.3" stroke-opacity="0.6"/>
<line x1="91.00" y1="308.30" x2="91.00" y2="312.30" stroke="#86bd86" stroke-width="0.3" stroke-opacity="0.6"/>
<line x1="92.00" y1="306.80" x2="92.00" y2="312.30" stroke="#86bd86" stroke-width="0.3" stroke-opacity="0.6"/>
<line x1="93.00" y1="304.30" x2="93.00" y2="312.30" stroke="#86bd86" stroke-width="0.3" stroke-opacity="0.6"/>
<line x1="94.00" y1="301.30" x2="94.00" y2="312.30" stroke="#86bd86" stroke-width="0.3" stroke-opacity="0.6"/>
<line x1="95.00" y1="299.30" x2="95.00" y2="312.30" stroke="#86bd86" stroke-width="0.3" stroke-opacity="0.6"/>
<line x1="96.00" y1="297.30" x2="96.00" y2="312.30" stroke="#86bd86" stroke-width="0.3" stroke-opacity="0.6"/>
<line x1="97.00" y1="294.30" x2="97.00" y2="312.30" stroke="#86bd86" stroke-width="0.3" stroke-opacity="0.6"/>
<line x1="98.00" y1="288.80" x2="98.00" y2="312.30" stroke="#86bd86" stroke-width="0.3" stroke-opacity="0.6"/>
<line x1="99.00" y1="284.30" x2="99.00" y2="312.30" stroke="#86bd86" stroke-width="0.3" stroke-opacity="0.6"/>
<line x1="100.00" y1="281.80" x2="100.00" y2="312.30" stroke="#86bd86" stroke-width="0.3" stroke-opacity="0.6"/>
<line x1="101.00" y1="280.30" x2="101.00" y2="312.30" stroke="#86bd86" stroke-width="0.3" stroke-opacity="0.6"/>
<line x1="102.00" y1="279.30" x2="102.00" y2="312.30" stroke="#86bd86" stroke-width="0.3" stroke-opacity="0.6"/>
<line x1="103.00" y1="279.30" x2="103.00" y2="312.30" stroke="#86bd86" stroke-width="0.3" stroke-opacity="0.6"/>
<line x1="104.00" y1="281.80" x2="104.00" y2="312.30" stroke="#86bd86" stroke-width="0.3" stroke-opacity="0.6"/>
<line x1="105.00" y1="284.30" x2="105.00" y2="312.30" stroke="#86bd86" stroke-width="0.3" stroke-opacity="0.6"/>
<line x1="106.00" y1="285.30" x2="106.00" y2="312.30" stroke="#86bd86" stroke-width="0.3" stroke-opacity="0.6"/>
<line x1="107.00" y1="289.30" x2="107.00" y2="312.30" stroke="#86bd86" stroke-width="0.3" stroke-opacity="0.6"/>
<line x1="108.00" y1="293.80" x2="108.00" y2="312.30" stroke="#86bd86" stroke-width="0.3" stroke-opacity="0.6"/>
<line x1="109.00" y1="297.30" x2="109.00" y2="312.30" stroke="#86bd86" stroke-width="0.3" stroke-opacity="0.6"/>
<line x1="110.00" y1="301.30" x2="110.00" y2="312.30" stroke="#86bd86" stroke-width="0.3" stroke-opacity="0.6"/>
<line x1="111.00" y1="304.30" x2="111.00" y2="312.30" stroke="#86bd86" stroke-width="0.3" stroke-opacity="0.6"/>
<line x1="112.00" y1="307.30" x2="112.00" y2="312.30" stroke="#86bd86" stroke-width="0.3" stroke-opacity="0.6"/>
<line x1="113.00" y1="308.80" x2="113.00" y2="312.30" stroke="#86bd86" stroke-width="0.3" stroke-opacity="0.6"/>
<line x1="114.00" y1="310.30" x2="114.00" y2="312.30" stroke="#86bd86" stroke-width="0.3" stroke-opacity="0.6"/>
<line x1="121.10" y1="292.60" x2="121.10" y2="312.40" stroke="#e8344a" stroke-width="1.0"/>
<text x="136.00" y="292.30" font-size="6.8" text-anchor="middle" fill="#231f20" textLength="18.80" lengthAdjust="spacingAndGlyphs">Edges</text>
<text x="136.70" y="299.80" font-size="6.8" text-anchor="middle" fill="#231f20" textLength="23.40" lengthAdjust="spacingAndGlyphs">number</text>
<text x="75.90" y="327.30" font-size="7" text-anchor="start" fill="#231f20" textLength="73.10" lengthAdjust="spacingAndGlyphs">Reliable task conditions</text>
<circle cx="79.60" cy="338.30" r="2.05" fill="#8a509c"/>
<text x="86.70" y="340.70" font-size="7.0" text-anchor="start" fill="#231f20" textLength="41.40" lengthAdjust="spacingAndGlyphs">Stop success</text>
<circle cx="79.60" cy="347.60" r="2.05" fill="#b88cc8"/>
<text x="86.70" y="350.00" font-size="7.0" text-anchor="start" fill="#231f20" textLength="36.40" lengthAdjust="spacingAndGlyphs">Stop failure</text>
<circle cx="79.60" cy="357.30" r="2.05" fill="#86ba86"/>
<text x="86.70" y="359.70" font-size="7.0" text-anchor="start" fill="#231f20" textLength="43.50" lengthAdjust="spacingAndGlyphs">Pos. feedback</text>
<circle cx="79.60" cy="366.60" r="2.05" fill="#8fb890"/>
<text x="86.70" y="369.00" font-size="7.0" text-anchor="start" fill="#231f20" textLength="44.20" lengthAdjust="spacingAndGlyphs">Reward antici.</text>
<line x1="180.50" y1="279.30" x2="180.50" y2="296.45" stroke="#c8c8c8" stroke-width="0.8"/>
<line x1="180.50" y1="296.45" x2="194.20" y2="296.45" stroke="#c8c8c8" stroke-width="0.8"/>
<line x1="194.20" y1="288.40" x2="194.20" y2="304.50" stroke="#c8c8c8" stroke-width="0.8"/>
<line x1="194.20" y1="288.40" x2="200.30" y2="288.40" stroke="#c8c8c8" stroke-width="0.8"/>
<polygon points="202.3,288.4 199.70000000000002,286.84 199.70000000000002,289.96" fill="#c8c8c8"/>
<line x1="194.20" y1="304.50" x2="200.30" y2="304.50" stroke="#c8c8c8" stroke-width="0.8"/>
<polygon points="202.3,304.5 199.70000000000002,302.94 199.70000000000002,306.06" fill="#c8c8c8"/>
<line x1="194.20" y1="261.15" x2="194.20" y2="269.60" stroke="#c8c8c8" stroke-width="0.8"/>
<line x1="194.20" y1="269.60" x2="200.30" y2="269.60" stroke="#c8c8c8" stroke-width="0.8"/>
<polygon points="202.3,269.6 199.70000000000002,268.04 199.70000000000002,271.16" fill="#c8c8c8"/>
<polyline points="172.6,279.3 180.5,279.3 180.5,261.15 194.2,261.15 194.2,252.7 200.3,252.7" fill="none" stroke="#6cb55a" stroke-width="1"/>
<polygon points="202.3,252.7 199.3,250.89999999999998 199.3,254.5" fill="#6cb55a"/>
<line x1="180.50" y1="361.00" x2="180.50" y2="378.80" stroke="#c8c8c8" stroke-width="0.8"/>
<line x1="180.50" y1="378.80" x2="194.20" y2="378.80" stroke="#c8c8c8" stroke-width="0.8"/>
<line x1="194.20" y1="370.40" x2="194.20" y2="387.20" stroke="#c8c8c8" stroke-width="0.8"/>
<line x1="194.20" y1="370.40" x2="200.30" y2="370.40" stroke="#c8c8c8" stroke-width="0.8"/>
<polygon points="202.3,370.4 199.70000000000002,368.84 199.70000000000002,371.96" fill="#c8c8c8"/>
<line x1="194.20" y1="387.20" x2="200.30" y2="387.20" stroke="#c8c8c8" stroke-width="0.8"/>
<polygon points="202.3,387.2 199.70000000000002,385.64 199.70000000000002,388.76" fill="#c8c8c8"/>
<line x1="194.20" y1="343.60" x2="194.20" y2="335.20" stroke="#c8c8c8" stroke-width="0.8"/>
<line x1="194.20" y1="335.20" x2="200.30" y2="335.20" stroke="#c8c8c8" stroke-width="0.8"/>
<polygon points="202.3,335.2 199.70000000000002,333.64 199.70000000000002,336.76" fill="#c8c8c8"/>
<polyline points="172.6,361.0 180.5,361.0 180.5,343.6 194.2,343.6 194.2,352.0 200.3,352.0" fill="none" stroke="#6cb55a" stroke-width="1"/>
<polygon points="202.3,352.0 199.3,350.2 199.3,353.8" fill="#6cb55a"/>
<circle cx="190.30" cy="253.10" r="2.20" fill="#e8344a"/>
<circle cx="190.20" cy="352.00" r="2.30" fill="#2f7bc4"/>
<text x="204.80" y="255.30" font-size="6.9" text-anchor="start" fill="#231f20" textLength="51.50" lengthAdjust="spacingAndGlyphs">Positive–positive</text>
<text x="204.80" y="271.80" font-size="6.9" text-anchor="start" fill="#a3a3a3" textLength="57.50" lengthAdjust="spacingAndGlyphs">Negative–negative</text>
<text x="204.80" y="290.70" font-size="6.9" text-anchor="start" fill="#a3a3a3" textLength="54.00" lengthAdjust="spacingAndGlyphs">Positive–negative</text>
<text x="204.80" y="307.00" font-size="6.9" text-anchor="start" fill="#a3a3a3" textLength="55.00" lengthAdjust="spacingAndGlyphs">Negative–positive</text>
<text x="204.80" y="337.60" font-size="6.9" text-anchor="start" fill="#a3a3a3" textLength="51.50" lengthAdjust="spacingAndGlyphs">Positive–positive</text>
<text x="204.80" y="354.00" font-size="6.9" text-anchor="start" fill="#231f20" textLength="57.50" lengthAdjust="spacingAndGlyphs">Negative–negative</text>
<text x="204.80" y="372.80" font-size="6.9" text-anchor="start" fill="#a3a3a3" textLength="54.00" lengthAdjust="spacingAndGlyphs">Positive–negative</text>
<text x="204.80" y="389.50" font-size="6.9" text-anchor="start" fill="#a3a3a3" textLength="55.00" lengthAdjust="spacingAndGlyphs">Negative–positive</text>
<text x="262.30" y="290.70" font-size="6.9" text-anchor="start" fill="#231f20" textLength="25.40" lengthAdjust="spacingAndGlyphs">0 edges</text>
<text x="262.30" y="307.00" font-size="6.9" text-anchor="start" fill="#231f20" textLength="25.40" lengthAdjust="spacingAndGlyphs">0 edges</text>
<text x="262.30" y="372.80" font-size="6.9" text-anchor="start" fill="#231f20" textLength="25.40" lengthAdjust="spacingAndGlyphs">0 edges</text>
<text x="262.30" y="389.50" font-size="6.9" text-anchor="start" fill="#231f20" textLength="25.40" lengthAdjust="spacingAndGlyphs">0 edges</text>
<line x1="262.00" y1="254.40" x2="281.50" y2="254.40" stroke="#c4c4c4" stroke-width="0.8"/>
<polygon points="266.00,254.4 266.00,253.91 266.25,253.76 266.50,253.56 266.75,253.31 267.00,253.01 267.25,252.64 267.50,252.22 267.75,251.72 268.00,251.15 268.25,250.51 268.50,249.81 268.75,249.04 269.00,248.23 269.25,247.39 269.50,246.54 269.75,245.69 270.00,244.88 270.25,244.13 270.50,243.46 270.75,242.89 271.00,242.45 271.25,242.16 271.50,242.01 271.75,242.02 272.00,242.16 272.25,242.41 272.50,242.78 272.75,243.24 273.00,243.80 273.25,244.43 273.50,245.11 273.75,245.83 274.00,246.58 274.25,247.33 274.50,248.07 274.75,248.79 275.00,249.48 275.25,250.13 275.50,250.73 275.75,251.27 276.00,251.76 276.25,252.20 276.50,252.58 276.75,252.91 277.00,253.20 277.25,253.44 277.50,253.63 277.70,254.4" fill="#8cba8b"/>
<line x1="267.20" y1="253.01" x2="267.20" y2="254.40" stroke="#6f9f6e" stroke-width="0.25" stroke-opacity="0.6"/>
<line x1="268.30" y1="250.57" x2="268.30" y2="254.40" stroke="#6f9f6e" stroke-width="0.25" stroke-opacity="0.6"/>
<line x1="269.40" y1="247.15" x2="269.40" y2="254.40" stroke="#6f9f6e" stroke-width="0.25" stroke-opacity="0.6"/>
<line x1="270.50" y1="243.94" x2="270.50" y2="254.40" stroke="#6f9f6e" stroke-width="0.25" stroke-opacity="0.6"/>
<line x1="271.60" y1="242.60" x2="271.60" y2="254.40" stroke="#6f9f6e" stroke-width="0.25" stroke-opacity="0.6"/>
<line x1="272.70" y1="243.94" x2="272.70" y2="254.40" stroke="#6f9f6e" stroke-width="0.25" stroke-opacity="0.6"/>
<line x1="273.80" y1="247.15" x2="273.80" y2="254.40" stroke="#6f9f6e" stroke-width="0.25" stroke-opacity="0.6"/>
<line x1="274.90" y1="250.57" x2="274.90" y2="254.40" stroke="#6f9f6e" stroke-width="0.25" stroke-opacity="0.6"/>
<line x1="276.00" y1="253.01" x2="276.00" y2="254.40" stroke="#6f9f6e" stroke-width="0.25" stroke-opacity="0.6"/>
<rect x="279.20" y="246.90" width="1.80" height="7.50" fill="#ef7883"/>
<line x1="262.60" y1="272.80" x2="282.10" y2="272.80" stroke="#c4c4c4" stroke-width="0.8"/>
<polygon points="266.50,272.8 266.50,272.28 266.75,272.10 267.00,271.89 267.25,271.62 267.50,271.29 267.75,270.90 268.00,270.44 268.25,269.90 268.50,269.29 268.75,268.60 269.00,267.83 269.25,267.01 269.50,266.13 269.75,265.23 270.00,264.30 270.25,263.39 270.50,262.51 270.75,261.70 271.00,260.97 271.25,260.36 271.50,259.89 271.75,259.57 272.00,259.41 272.25,259.42 272.50,259.57 272.75,259.85 273.00,260.24 273.25,260.75 273.50,261.34 273.75,262.02 274.00,262.76 274.25,263.54 274.50,264.35 274.75,265.16 275.00,265.96 275.25,266.74 275.50,267.49 275.75,268.18 276.00,268.83 276.25,269.42 276.50,269.95 276.75,270.42 277.00,270.84 277.25,271.19 277.50,271.50 277.75,271.76 278.00,271.97 278.20,272.8" fill="#dddddd"/>
<rect x="274.40" y="264.40" width="1.80" height="8.40" fill="#e0404f"/>
<line x1="262.60" y1="337.70" x2="282.10" y2="337.70" stroke="#c4c4c4" stroke-width="0.8"/>
<polygon points="266.50,337.7 266.50,337.18 266.75,337.00 267.00,336.79 267.25,336.52 267.50,336.19 267.75,335.80 268.00,335.34 268.25,334.80 268.50,334.19 268.75,333.50 269.00,332.73 269.25,331.91 269.50,331.03 269.75,330.13 270.00,329.20 270.25,328.29 270.50,327.41 270.75,326.60 271.00,325.87 271.25,325.26 271.50,324.79 271.75,324.47 272.00,324.31 272.25,324.32 272.50,324.47 272.75,324.75 273.00,325.14 273.25,325.65 273.50,326.24 273.75,326.92 274.00,327.66 274.25,328.44 274.50,329.25 274.75,330.06 275.00,330.86 275.25,331.64 275.50,332.39 275.75,333.08 276.00,333.73 276.25,334.32 276.50,334.85 276.75,335.32 277.00,335.74 277.25,336.09 277.50,336.40 277.75,336.66 278.00,336.87 278.20,337.7" fill="#dddddd"/>
<rect x="274.40" y="329.40" width="1.80" height="8.30" fill="#e0404f"/>
<line x1="263.00" y1="355.10" x2="282.50" y2="355.10" stroke="#c4c4c4" stroke-width="0.8"/>
<polygon points="266.80,355.1 266.80,354.61 267.05,354.46 267.30,354.26 267.55,354.01 267.80,353.71 268.05,353.34 268.30,352.92 268.55,352.42 268.80,351.85 269.05,351.21 269.30,350.51 269.55,349.74 269.80,348.93 270.05,348.09 270.30,347.24 270.55,346.39 270.80,345.58 271.05,344.83 271.30,344.16 271.55,343.59 271.80,343.15 272.05,342.86 272.30,342.71 272.55,342.72 272.80,342.86 273.05,343.11 273.30,343.48 273.55,343.94 273.80,344.50 274.05,345.13 274.30,345.81 274.55,346.53 274.80,347.28 275.05,348.03 275.30,348.77 275.55,349.49 275.80,350.18 276.05,350.83 276.30,351.43 276.55,351.97 276.80,352.46 277.05,352.90 277.30,353.28 277.55,353.61 277.80,353.90 278.05,354.14 278.30,354.33 278.50,355.1" fill="#8cba8b"/>
<line x1="268.00" y1="353.71" x2="268.00" y2="355.10" stroke="#6f9f6e" stroke-width="0.25" stroke-opacity="0.6"/>
<line x1="269.10" y1="351.27" x2="269.10" y2="355.10" stroke="#6f9f6e" stroke-width="0.25" stroke-opacity="0.6"/>
<line x1="270.20" y1="347.85" x2="270.20" y2="355.10" stroke="#6f9f6e" stroke-width="0.25" stroke-opacity="0.6"/>
<line x1="271.30" y1="344.64" x2="271.30" y2="355.10" stroke="#6f9f6e" stroke-width="0.25" stroke-opacity="0.6"/>
<line x1="272.40" y1="343.30" x2="272.40" y2="355.10" stroke="#6f9f6e" stroke-width="0.25" stroke-opacity="0.6"/>
<line x1="273.50" y1="344.64" x2="273.50" y2="355.10" stroke="#6f9f6e" stroke-width="0.25" stroke-opacity="0.6"/>
<line x1="274.60" y1="347.85" x2="274.60" y2="355.10" stroke="#6f9f6e" stroke-width="0.25" stroke-opacity="0.6"/>
<line x1="275.70" y1="351.27" x2="275.70" y2="355.10" stroke="#6f9f6e" stroke-width="0.25" stroke-opacity="0.6"/>
<line x1="276.80" y1="353.71" x2="276.80" y2="355.10" stroke="#6f9f6e" stroke-width="0.25" stroke-opacity="0.6"/>
<rect x="279.70" y="347.60" width="1.80" height="7.50" fill="#ef7883"/>
<line x1="307.20" y1="252.20" x2="331.00" y2="250.70" stroke="#dadada" stroke-width="1.5"/>
<line x1="307.20" y1="252.20" x2="319.30" y2="260.20" stroke="#dadada" stroke-width="1.5"/>
<line x1="305.60" y1="266.30" x2="319.30" y2="260.20" stroke="#dadada" stroke-width="1.5"/>
<line x1="319.30" y1="260.20" x2="331.00" y2="250.70" stroke="#dadada" stroke-width="1.5"/>
<line x1="319.30" y1="260.20" x2="331.80" y2="266.30" stroke="#dadada" stroke-width="1.5"/>
<line x1="331.00" y1="250.70" x2="348.50" y2="262.20" stroke="#dadada" stroke-width="1.5"/>
<line x1="331.80" y1="266.30" x2="348.50" y2="262.20" stroke="#dadada" stroke-width="1.5"/>
<line x1="318.30" y1="245.70" x2="331.00" y2="250.70" stroke="#e8344a" stroke-width="1.6"/>
<line x1="331.00" y1="250.70" x2="343.80" y2="247.10" stroke="#e8344a" stroke-width="1.6"/>
<line x1="331.00" y1="250.70" x2="331.80" y2="266.30" stroke="#e8344a" stroke-width="1.6"/>
<line x1="343.80" y1="247.10" x2="348.50" y2="262.20" stroke="#e8344a" stroke-width="1.6"/>
<circle cx="307.20" cy="252.20" r="2.70" fill="#878787"/>
<circle cx="318.30" cy="245.70" r="2.70" fill="#878787"/>
<circle cx="331.00" cy="250.70" r="2.70" fill="#878787"/>
<circle cx="343.80" cy="247.10" r="2.70" fill="#878787"/>
<circle cx="319.30" cy="260.20" r="2.70" fill="#878787"/>
<circle cx="305.60" cy="266.30" r="2.70" fill="#878787"/>
<circle cx="331.80" cy="266.30" r="2.70" fill="#878787"/>
<circle cx="348.50" cy="262.20" r="2.70" fill="#878787"/>
<line x1="308.20" y1="345.20" x2="332.00" y2="343.70" stroke="#dadada" stroke-width="1.5"/>
<line x1="319.30" y1="338.70" x2="332.00" y2="343.70" stroke="#dadada" stroke-width="1.5"/>
<line x1="332.00" y1="343.70" x2="344.80" y2="340.10" stroke="#dadada" stroke-width="1.5"/>
<line x1="308.20" y1="345.20" x2="320.30" y2="353.20" stroke="#dadada" stroke-width="1.5"/>
<line x1="306.60" y1="359.30" x2="320.30" y2="353.20" stroke="#dadada" stroke-width="1.5"/>
<line x1="320.30" y1="353.20" x2="332.80" y2="359.30" stroke="#dadada" stroke-width="1.5"/>
<line x1="332.00" y1="343.70" x2="332.80" y2="359.30" stroke="#dadada" stroke-width="1.5"/>
<line x1="320.30" y1="353.20" x2="332.00" y2="343.70" stroke="#2f7bc4" stroke-width="1.6"/>
<line x1="332.00" y1="343.70" x2="349.50" y2="355.20" stroke="#2f7bc4" stroke-width="1.6"/>
<line x1="344.80" y1="340.10" x2="349.50" y2="355.20" stroke="#2f7bc4" stroke-width="1.6"/>
<line x1="332.80" y1="359.30" x2="349.50" y2="355.20" stroke="#2f7bc4" stroke-width="1.6"/>
<circle cx="308.20" cy="345.20" r="2.70" fill="#878787"/>
<circle cx="319.30" cy="338.70" r="2.70" fill="#878787"/>
<circle cx="332.00" cy="343.70" r="2.70" fill="#878787"/>
<circle cx="344.80" cy="340.10" r="2.70" fill="#878787"/>
<circle cx="320.30" cy="353.20" r="2.70" fill="#878787"/>
<circle cx="306.60" cy="359.30" r="2.70" fill="#878787"/>
<circle cx="332.80" cy="359.30" r="2.70" fill="#878787"/>
<circle cx="349.50" cy="355.20" r="2.70" fill="#878787"/>
<text x="328.30" y="279.40" font-size="7.2" text-anchor="middle" fill="#231f20" textLength="41.22" lengthAdjust="spacingAndGlyphs">Externalizing</text>
<text x="329.30" y="286.80" font-size="7.2" text-anchor="middle" fill="#231f20">factor</text>
<text x="329.70" y="374.80" font-size="7.2" text-anchor="middle" fill="#231f20" textLength="38.82" lengthAdjust="spacingAndGlyphs">Internalizing</text>
<text x="330.40" y="381.80" font-size="7.2" text-anchor="middle" fill="#231f20">factor</text>
<rect x="361.8" y="239.4" width="319.7" height="71.9" rx="6" fill="#f6f6f6"/>
<rect x="362.9" y="321.6" width="318.6" height="75.59999999999997" rx="6" fill="#f6f6f6"/>
<line x1="371.25" y1="263.65" x2="388.39" y2="262.57" stroke="#dadada" stroke-width="1.2"/>
<line x1="371.25" y1="263.65" x2="379.96" y2="269.41" stroke="#dadada" stroke-width="1.2"/>
<line x1="370.10" y1="273.80" x2="379.96" y2="269.41" stroke="#dadada" stroke-width="1.2"/>
<line x1="379.96" y1="269.41" x2="388.39" y2="262.57" stroke="#dadada" stroke-width="1.2"/>
<line x1="379.96" y1="269.41" x2="388.96" y2="273.80" stroke="#dadada" stroke-width="1.2"/>
<line x1="388.39" y1="262.57" x2="400.99" y2="270.85" stroke="#dadada" stroke-width="1.2"/>
<line x1="388.96" y1="273.80" x2="400.99" y2="270.85" stroke="#dadada" stroke-width="1.2"/>
<line x1="379.24" y1="258.97" x2="388.39" y2="262.57" stroke="#e8344a" stroke-width="1.3"/>
<line x1="388.39" y1="262.57" x2="397.60" y2="259.98" stroke="#e8344a" stroke-width="1.3"/>
<line x1="388.39" y1="262.57" x2="388.96" y2="273.80" stroke="#e8344a" stroke-width="1.3"/>
<line x1="397.60" y1="259.98" x2="400.99" y2="270.85" stroke="#e8344a" stroke-width="1.3"/>
<circle cx="371.25" cy="263.65" r="2.00" fill="#878787"/>
<circle cx="379.24" cy="258.97" r="2.00" fill="#878787"/>
<circle cx="388.39" cy="262.57" r="2.00" fill="#878787"/>
<circle cx="397.60" cy="259.98" r="2.00" fill="#878787"/>
<circle cx="379.96" cy="269.41" r="2.00" fill="#878787"/>
<circle cx="370.10" cy="273.80" r="2.00" fill="#878787"/>
<circle cx="388.96" cy="273.80" r="2.00" fill="#878787"/>
<circle cx="400.99" cy="270.85" r="2.00" fill="#878787"/>
<line x1="371.95" y1="350.05" x2="389.09" y2="348.97" stroke="#dadada" stroke-width="1.2"/>
<line x1="379.94" y1="345.37" x2="389.09" y2="348.97" stroke="#dadada" stroke-width="1.2"/>
<line x1="389.09" y1="348.97" x2="398.30" y2="346.38" stroke="#dadada" stroke-width="1.2"/>
<line x1="371.95" y1="350.05" x2="380.66" y2="355.81" stroke="#dadada" stroke-width="1.2"/>
<line x1="370.80" y1="360.20" x2="380.66" y2="355.81" stroke="#dadada" stroke-width="1.2"/>
<line x1="380.66" y1="355.81" x2="389.66" y2="360.20" stroke="#dadada" stroke-width="1.2"/>
<line x1="389.09" y1="348.97" x2="389.66" y2="360.20" stroke="#dadada" stroke-width="1.2"/>
<line x1="380.66" y1="355.81" x2="389.09" y2="348.97" stroke="#2f7bc4" stroke-width="1.3"/>
<line x1="389.09" y1="348.97" x2="401.69" y2="357.25" stroke="#2f7bc4" stroke-width="1.3"/>
<line x1="398.30" y1="346.38" x2="401.69" y2="357.25" stroke="#2f7bc4" stroke-width="1.3"/>
<line x1="389.66" y1="360.20" x2="401.69" y2="357.25" stroke="#2f7bc4" stroke-width="1.3"/>
<circle cx="371.95" cy="350.05" r="2.00" fill="#878787"/>
<circle cx="379.94" cy="345.37" r="2.00" fill="#878787"/>
<circle cx="389.09" cy="348.97" r="2.00" fill="#878787"/>
<circle cx="398.30" cy="346.38" r="2.00" fill="#878787"/>
<circle cx="380.66" cy="355.81" r="2.00" fill="#878787"/>
<circle cx="370.80" cy="360.20" r="2.00" fill="#878787"/>
<circle cx="389.66" cy="360.20" r="2.00" fill="#878787"/>
<circle cx="401.69" cy="357.25" r="2.00" fill="#878787"/>
<text x="385.20" y="284.10" font-size="6.9" text-anchor="middle" fill="#231f20" textLength="39.50" lengthAdjust="spacingAndGlyphs">Externalizing</text>
<text x="386.40" y="291.70" font-size="6.9" text-anchor="middle" fill="#231f20">factor</text>
<text x="385.50" y="370.40" font-size="6.9" text-anchor="middle" fill="#231f20" textLength="37.21" lengthAdjust="spacingAndGlyphs">Internalizing</text>
<text x="385.80" y="377.90" font-size="6.9" text-anchor="middle" fill="#231f20">factor</text>
<text x="443.90" y="252.60" font-size="6.5" text-anchor="start" fill="#231f20" textLength="26.20" lengthAdjust="spacingAndGlyphs">14-Exter.</text>
<text x="475.20" y="252.60" font-size="6.5" text-anchor="start" fill="#231f20" textLength="26.40" lengthAdjust="spacingAndGlyphs">19-Exter.</text>
<text x="508.90" y="252.60" font-size="6.5" text-anchor="start" fill="#231f20" textLength="27.00" lengthAdjust="spacingAndGlyphs">23-Exter.</text>
<text x="412.90" y="265.50" font-size="6.5" text-anchor="start" fill="#231f20" textLength="24.50" lengthAdjust="spacingAndGlyphs">14-Brain</text>
<text x="412.90" y="279.60" font-size="6.5" text-anchor="start" fill="#231f20" textLength="24.50" lengthAdjust="spacingAndGlyphs">19-Brain</text>
<text x="412.90" y="292.50" font-size="6.5" text-anchor="start" fill="#231f20" textLength="25.20" lengthAdjust="spacingAndGlyphs">23-Brain</text>
<text x="445.40" y="265.50" font-size="6.6" text-anchor="start" fill="#e2263b" textLength="23.10" lengthAdjust="spacingAndGlyphs"><tspan font-style="italic">r</tspan> = 0.29</text>
<text x="474.80" y="265.50" font-size="6.6" text-anchor="start" fill="#e2263b" textLength="27.40" lengthAdjust="spacingAndGlyphs"><tspan font-style="italic">r</tspan> = 0.095</text>
<text x="510.40" y="265.50" font-size="6.6" text-anchor="start" fill="#e2263b" textLength="24.50" lengthAdjust="spacingAndGlyphs"><tspan font-style="italic">r</tspan> = 0.117</text>
<text x="474.80" y="279.60" font-size="6.6" text-anchor="start" fill="#e2263b" textLength="27.40" lengthAdjust="spacingAndGlyphs"><tspan font-style="italic">r</tspan> = 0.096</text>
<text x="508.90" y="279.60" font-size="6.6" text-anchor="start" fill="#e2263b" textLength="27.00" lengthAdjust="spacingAndGlyphs"><tspan font-style="italic">r</tspan> = 0.055</text>
<text x="508.90" y="292.50" font-size="6.6" text-anchor="start" fill="#e2263b" textLength="27.00" lengthAdjust="spacingAndGlyphs"><tspan font-style="italic">r</tspan> = 0.078</text>
<text x="443.80" y="335.60" font-size="6.5" text-anchor="start" fill="#231f20" textLength="24.90" lengthAdjust="spacingAndGlyphs">14-Inter.</text>
<text x="476.20" y="335.60" font-size="6.5" text-anchor="start" fill="#231f20" textLength="25.00" lengthAdjust="spacingAndGlyphs">19-Inter.</text>
<text x="513.10" y="335.60" font-size="6.5" text-anchor="start" fill="#231f20" textLength="25.80" lengthAdjust="spacingAndGlyphs">23-Inter.</text>
<text x="412.70" y="348.90" font-size="6.5" text-anchor="start" fill="#231f20" textLength="24.70" lengthAdjust="spacingAndGlyphs">14-Brain</text>
<text x="412.70" y="365.30" font-size="6.5" text-anchor="start" fill="#231f20" textLength="24.70" lengthAdjust="spacingAndGlyphs">19-Brain</text>
<text x="412.70" y="380.80" font-size="6.5" text-anchor="start" fill="#231f20" textLength="24.70" lengthAdjust="spacingAndGlyphs">23-Brain</text>
<text x="443.20" y="348.90" font-size="6.6" text-anchor="start" fill="#2a78c8" textLength="25.50" lengthAdjust="spacingAndGlyphs"><tspan font-style="italic">r</tspan> = −0.21</text>
<text x="472.90" y="348.90" font-size="6.6" text-anchor="start" fill="#2a78c8" textLength="31.90" lengthAdjust="spacingAndGlyphs"><tspan font-style="italic">r</tspan> = −0.080</text>
<text x="510.30" y="348.90" font-size="6.6" text-anchor="start" fill="#2a78c8" textLength="31.40" lengthAdjust="spacingAndGlyphs"><tspan font-style="italic">r</tspan> = −0.088</text>
<text x="489.00" y="364.70" font-size="6.6" text-anchor="middle" fill="#231f20">NS</text>
<text x="526.20" y="364.70" font-size="6.6" text-anchor="middle" fill="#231f20">NS</text>
<text x="526.20" y="380.60" font-size="6.6" text-anchor="middle" fill="#231f20">NS</text>
<path d="M569.3,262.0 L612.1,259.7 L655.0,282.5 M569.3,286.3 L612.1,292.9 L655.0,289.0 M569.3,288.1 L612.1,294.9 L655.0,288.5 M569.3,278.0 L612.1,278.3 L655.0,292.7 M569.3,279.4 L612.1,284.5 L655.0,295.7 M569.3,273.3 L612.1,279.1 L655.0,251.4 M569.3,277.3 L612.1,284.5 L655.0,273.9 M569.3,277.3 L612.1,273.9 L655.0,289.3 M569.3,277.1 L612.1,272.3 L655.0,280.2 M569.3,278.1 L612.1,291.1 L655.0,283.0 M569.3,278.6 L612.1,276.7 L655.0,285.2 M569.3,265.4 L612.1,280.8 L655.0,281.9 M569.3,271.6 L612.1,290.0 L655.0,288.3 M569.3,284.1 L612.1,262.1 L655.0,289.2 M569.3,271.8 L612.1,275.3 L655.0,287.5 M569.3,291.4 L612.1,280.5 L655.0,293.4 M569.3,270.9 L612.1,291.1 L655.0,288.5 M569.3,262.6 L612.1,260.2 L655.0,292.6 M569.3,290.1 L612.1,288.1 L655.0,285.4 M569.3,277.7 L612.1,280.7 L655.0,293.1 M569.3,272.6 L612.1,269.2 L655.0,288.8 M569.3,290.7 L612.1,292.5 L655.0,285.4 M569.3,292.4 L612.1,289.4 L655.0,296.2 M569.3,280.8 L612.1,286.3 L655.0,287.5 M569.3,258.2 L612.1,273.9 L655.0,265.1 M569.3,280.9 L612.1,288.0 L655.0,284.5 M569.3,297.0 L612.1,291.5 L655.0,292.9 M569.3,289.5 L612.1,283.9 L655.0,293.5 M569.3,295.6 L612.1,291.6 L655.0,297.2 M569.3,284.3 L612.1,286.7 L655.0,277.1 M569.3,278.4 L612.1,283.9 L655.0,283.6 M569.3,292.8 L612.1,278.7 L655.0,296.7 M569.3,274.5 L612.1,290.7 L655.0,292.5 M569.3,283.2 L612.1,262.9 L655.0,282.5 M569.3,285.0 L612.1,287.8 L655.0,295.2 M569.3,279.8 L612.1,288.4 L655.0,280.9 M569.3,290.3 L612.1,290.0 L655.0,295.1 M569.3,285.9 L612.1,279.9 L655.0,288.3 M569.3,272.6 L612.1,268.2 L655.0,273.1 M569.3,290.4 L612.1,283.8 L655.0,298.4 M569.3,280.1 L612.1,260.3 L655.0,288.8 M569.3,283.0 L612.1,283.7 L655.0,288.1 M569.3,279.2 L612.1,289.4 L655.0,276.6 M569.3,268.4 L612.1,282.9 L655.0,281.5 M569.3,271.7 L612.1,270.0 L655.0,281.6 M569.3,271.2 L612.1,284.0 L655.0,292.4 M569.3,284.1 L612.1,275.7 L655.0,280.0 M569.3,277.9 L612.1,287.9 L655.0,284.2 M569.3,255.0 L612.1,258.9 L655.0,287.7 M569.3,279.9 L612.1,293.3 L655.0,294.2 M569.3,277.4 L612.1,283.2 L655.0,277.3 M569.3,262.4 L612.1,269.6 L655.0,266.8 M569.3,284.5 L612.1,292.7 L655.0,284.8 M569.3,276.8 L612.1,266.6 L655.0,293.1 M569.3,269.7 L612.1,286.4 L655.0,270.2 M569.3,269.9 L612.1,278.3 L655.0,257.7 M569.3,283.4 L612.1,290.0 L655.0,268.2 M569.3,287.1 L612.1,260.8 L655.0,289.8 M569.3,288.2 L612.1,287.0 L655.0,289.1 M569.3,277.3 L612.1,284.9 L655.0,275.8 M569.3,295.1 L612.1,293.1 L655.0,294.1 M569.3,251.8 L612.1,292.6 L655.0,284.4 M569.3,288.9 L612.1,291.4 L655.0,285.5 M569.3,274.8 L612.1,265.4 L655.0,290.3 M569.3,276.5 L612.1,270.1 L655.0,277.7 M569.3,282.7 L612.1,273.7 L655.0,293.7 M569.3,252.1 L612.1,275.8 L655.0,282.4 M569.3,276.5 L612.1,274.3 L655.0,266.0 M569.3,280.9 L612.1,287.2 L655.0,282.6 M569.3,287.1 L612.1,295.7 L655.0,282.9 M569.3,283.1 L612.1,273.9 L655.0,294.2 M569.3,297.2 L612.1,289.7 L655.0,293.1 M569.3,256.3 L612.1,272.1 L655.0,278.8 M569.3,272.6 L612.1,285.2 L655.0,284.8 M569.3,290.3 L612.1,283.9 L655.0,294.9 M569.3,283.7 L612.1,279.0 L655.0,280.5 M569.3,288.0 L612.1,264.8 L655.0,293.3 M569.3,269.2 L612.1,270.2 L655.0,282.6 M569.3,277.6 L612.1,260.9 L655.0,278.2 M569.3,274.4 L612.1,294.2 L655.0,291.1 M569.3,264.2 L612.1,278.0 L655.0,290.8 M569.3,285.3 L612.1,288.1 L655.0,283.5 M569.3,275.1 L612.1,271.9 L655.0,291.7 M569.3,267.0 L612.1,285.1 L655.0,286.7 M569.3,253.6 L612.1,277.0 L655.0,282.9 M569.3,281.5 L612.1,287.5 L655.0,271.5 M569.3,260.5 L612.1,270.7 L655.0,281.0 M569.3,266.1 L612.1,281.2 L655.0,279.5 M569.3,274.9 L612.1,281.9 L655.0,266.7 M569.3,253.1 L612.1,258.8 L655.0,294.7 M569.3,251.4 L612.1,268.5 L655.0,285.3 M569.3,279.7 L612.1,272.0 L655.0,275.7 M569.3,268.9 L612.1,279.7 L655.0,284.3 M569.3,269.3 L612.1,282.0 L655.0,291.2 M569.3,285.2 L612.1,286.9 L655.0,286.4 M569.3,280.4 L612.1,281.6 L655.0,273.7 M569.3,262.8 L612.1,281.2 L655.0,287.9 M569.3,290.3 L612.1,288.3 L655.0,280.6 M569.3,282.1 L612.1,278.2 L655.0,281.9 M569.3,275.0 L612.1,270.7 L655.0,286.9 M569.3,286.8 L612.1,293.4 L655.0,281.8 M569.3,282.9 L612.1,287.4 L655.0,281.0 M569.3,286.5 L612.1,267.2 L655.0,284.1 M569.3,284.4 L612.1,289.9 L655.0,279.0 M569.3,289.2 L612.1,291.4 L655.0,290.2 M569.3,277.3 L612.1,283.2 L655.0,283.3 M569.3,283.0 L612.1,286.0 L655.0,276.2 M569.3,271.8 L612.1,285.6 L655.0,264.0 M569.3,293.6 L612.1,288.8 L655.0,287.8 M569.3,267.2 L612.1,279.6 L655.0,287.4 M569.3,272.6 L612.1,283.8 L655.0,281.1 M569.3,297.1 L612.1,289.0 L655.0,297.0 M569.3,267.6 L612.1,272.4 L655.0,276.8 M569.3,283.3 L612.1,281.5 L655.0,290.6 M569.3,277.1 L612.1,284.4 L655.0,292.3 M569.3,248.3 L612.1,267.4 L655.0,294.9 M569.3,268.4 L612.1,291.2 L655.0,286.4 M569.3,284.8 L612.1,289.4 L655.0,287.0 M569.3,282.6 L612.1,293.8 L655.0,288.2 M569.3,275.4 L612.1,260.2 L655.0,289.2 M569.3,289.2 L612.1,289.9 L655.0,285.5 M569.3,287.2 L612.1,291.2 L655.0,285.4 M569.3,279.6 L612.1,282.1 L655.0,291.4 M569.3,286.7 L612.1,288.7 L655.0,290.4 M569.3,282.7 L612.1,281.2 L655.0,283.7 M569.3,273.1 L612.1,277.4 L655.0,291.7 M569.3,288.8 L612.1,280.5 L655.0,290.1 M569.3,278.2 L612.1,291.5 L655.0,288.4 M569.3,285.3 L612.1,291.5 L655.0,292.8 M569.3,291.1 L612.1,287.6 L655.0,281.9 M569.3,285.8 L612.1,285.3 L655.0,295.1 M569.3,271.5 L612.1,256.3 L655.0,293.3 M569.3,281.7 L612.1,269.2 L655.0,284.9 M569.3,278.2 L612.1,295.6 L655.0,288.0 M569.3,268.0 L612.1,262.3 L655.0,277.9 M569.3,284.8 L612.1,290.3 L655.0,297.6 M569.3,288.5 L612.1,277.0 L655.0,290.7 M569.3,290.2 L612.1,275.9 L655.0,298.1 M569.3,262.5 L612.1,282.7 L655.0,279.8 M569.3,271.4 L612.1,279.2 L655.0,270.9 M569.3,279.3 L612.1,286.5 L655.0,291.6 M569.3,290.8 L612.1,292.2 L655.0,283.5 M569.3,270.9 L612.1,276.4 L655.0,293.7 M569.3,281.8 L612.1,256.5 L655.0,283.5 M569.3,280.8 L612.1,281.7 L655.0,297.3 M569.3,286.8 L612.1,294.0 L655.0,298.9 M569.3,270.2 L612.1,270.4 L655.0,286.3 M569.3,275.6 L612.1,290.2 L655.0,282.2 M569.3,270.2 L612.1,261.7 L655.0,265.9 M569.3,273.9 L612.1,283.5 L655.0,291.5 M569.3,285.0 L612.1,280.4 L655.0,284.4 M569.3,279.3 L612.1,264.1 L655.0,281.5 M569.3,279.3 L612.1,285.5 L655.0,286.6 M569.3,287.6 L612.1,292.7 L655.0,287.3 M569.3,284.8 L612.1,287.7 L655.0,277.7 M569.3,281.4 L612.1,270.5 L655.0,287.8 M569.3,257.9 L612.1,273.3 L655.0,294.4 M569.3,262.9 L612.1,281.7 L655.0,295.7 M569.3,278.3 L612.1,282.2 L655.0,294.6 M569.3,285.0 L612.1,281.1 L655.0,275.5 M569.3,264.5 L612.1,264.5 L655.0,270.6 M569.3,295.7 L612.1,294.2 L655.0,292.1 M569.3,296.5 L612.1,285.8 L655.0,288.1 M569.3,286.3 L612.1,288.9 L655.0,294.5 M569.3,279.6 L612.1,284.4 L655.0,287.3 M569.3,288.1 L612.1,283.9 L655.0,292.0 M569.3,267.5 L612.1,277.6 L655.0,294.1 M569.3,290.8 L612.1,287.6 L655.0,293.6 M569.3,274.1 L612.1,273.9 L655.0,285.7 M569.3,292.1 L612.1,294.9 L655.0,287.6 M569.3,288.3 L612.1,277.0 L655.0,290.5 M569.3,273.5 L612.1,289.0 L655.0,286.5 M569.3,297.4 L612.1,292.6 L655.0,290.8 M569.3,287.2 L612.1,291.9 L655.0,289.9 M569.3,278.8 L612.1,289.6 L655.0,281.0 M569.3,291.9 L612.1,279.3 L655.0,297.6 M569.3,286.7 L612.1,273.4 L655.0,294.9 M569.3,292.0 L612.1,288.1 L655.0,295.8 M569.3,288.8 L612.1,291.6 L655.0,294.2 M569.3,287.8 L612.1,293.0 L655.0,274.7 M569.3,285.5 L612.1,277.0 L655.0,296.3 M569.3,273.2 L612.1,291.2 L655.0,289.1 M569.3,272.0 L612.1,286.3 L655.0,296.6 M569.3,284.6 L612.1,286.8 L655.0,284.2 M569.3,288.0 L612.1,288.9 L655.0,289.4 M569.3,291.9 L612.1,289.2 L655.0,295.5 M569.3,274.5 L612.1,283.5 L655.0,287.2 M569.3,295.5 L612.1,291.0 L655.0,294.7 M569.3,287.6 L612.1,290.1 L655.0,296.1 M569.3,277.6 L612.1,276.9 L655.0,281.4 M569.3,284.3 L612.1,267.0 L655.0,281.4 M569.3,287.6 L612.1,287.7 L655.0,297.5 M569.3,280.6 L612.1,277.6 L655.0,275.0 M569.3,283.4 L612.1,295.4 L655.0,289.5 M569.3,260.8 L612.1,277.7 L655.0,266.9 M569.3,269.3 L612.1,260.8 L655.0,278.8 M569.3,285.5 L612.1,282.2 L655.0,257.8 M569.3,284.3 L612.1,295.8 L655.0,264.8 M569.3,274.9 L612.1,287.6 L655.0,290.4 M569.3,291.3 L612.1,282.9 L655.0,290.2 M569.3,285.2 L612.1,288.8 L655.0,291.6 M569.3,265.7 L612.1,282.1 L655.0,267.0 M569.3,286.8 L612.1,290.5 L655.0,292.4 M569.3,284.5 L612.1,286.3 L655.0,279.7 M569.3,263.4 L612.1,288.6 L655.0,267.8 M569.3,278.5 L612.1,264.9 L655.0,288.2 M569.3,286.8 L612.1,279.6 L655.0,284.7 M569.3,283.8 L612.1,285.2 L655.0,287.5 M569.3,276.0 L612.1,293.9 L655.0,293.9 M569.3,278.9 L612.1,281.5 L655.0,290.7 M569.3,292.5 L612.1,277.4 L655.0,293.3 M569.3,288.3 L612.1,271.1 L655.0,280.6 M569.3,266.2 L612.1,270.8 L655.0,278.2 M569.3,287.8 L612.1,286.6 L655.0,287.3 M569.3,272.0 L612.1,277.1 L655.0,292.2 M569.3,285.0 L612.1,288.2 L655.0,290.2 M569.3,287.1 L612.1,296.1 L655.0,295.9 M569.3,276.1 L612.1,283.1 L655.0,281.1 M569.3,293.2 L612.1,291.6 L655.0,285.7 M569.3,293.5 L612.1,294.9 L655.0,298.7 M569.3,263.3 L612.1,279.5 L655.0,288.1 M569.3,277.9 L612.1,284.3 L655.0,278.2 M569.3,264.0 L612.1,269.0 L655.0,280.2 M569.3,270.2 L612.1,272.4 L655.0,272.0 M569.3,292.9 L612.1,286.6 L655.0,291.3 M569.3,277.8 L612.1,285.5 L655.0,287.3 M569.3,273.8 L612.1,280.5 L655.0,284.7 M569.3,288.5 L612.1,294.2 L655.0,294.2 M569.3,292.6 L612.1,291.9 L655.0,295.7 M569.3,292.7 L612.1,297.7 L655.0,294.1 M569.3,284.8 L612.1,259.2 L655.0,281.5 M569.3,286.4 L612.1,289.7 L655.0,294.9 M569.3,286.4 L612.1,288.8 L655.0,289.6 M569.3,285.2 L612.1,278.4 L655.0,283.8 M569.3,248.8 L612.1,288.3 L655.0,272.6 M569.3,283.1 L612.1,294.6 L655.0,290.3 M569.3,291.9 L612.1,288.7 L655.0,261.0 M569.3,261.7 L612.1,252.4 L655.0,268.5 M569.3,291.4 L612.1,285.3 L655.0,290.2 M569.3,274.6 L612.1,290.2 L655.0,296.9 M569.3,245.3 L612.1,258.8 L655.0,276.6 M569.3,284.1 L612.1,284.0 L655.0,295.4 M569.3,267.4 L612.1,279.1 L655.0,285.6 M569.3,283.5 L612.1,285.8 L655.0,287.4 M569.3,283.3 L612.1,275.9 L655.0,286.7 M569.3,280.4 L612.1,290.3 L655.0,275.5 M569.3,261.9 L612.1,271.5 L655.0,295.1 M569.3,282.8 L612.1,275.4 L655.0,287.9 M569.3,262.2 L612.1,283.6 L655.0,274.4 M569.3,273.4 L612.1,296.5 L655.0,288.7 M569.3,281.8 L612.1,289.2 L655.0,293.3 M569.3,256.5 L612.1,279.6 L655.0,272.9 M569.3,290.2 L612.1,297.6 L655.0,293.3 M569.3,274.9 L612.1,288.3 L655.0,281.2 M569.3,269.7 L612.1,285.2 L655.0,285.3 M569.3,286.1 L612.1,276.0 L655.0,271.4 M569.3,273.8 L612.1,286.5 L655.0,290.8 M569.3,282.2 L612.1,276.2 L655.0,292.7 M569.3,258.6 L612.1,288.9 L655.0,282.5 M569.3,261.5 L612.1,253.1 L655.0,286.6 M569.3,294.5 L612.1,288.0 L655.0,270.4 M569.3,289.1 L612.1,279.5 L655.0,299.1 M569.3,256.5 L612.1,286.0 L655.0,272.6 M569.3,268.1 L612.1,297.1 L655.0,293.9 M569.3,275.8 L612.1,293.0 L655.0,286.4 M569.3,287.6 L612.1,273.8 L655.0,292.7 M569.3,287.4 L612.1,281.3 L655.0,279.1 M569.3,281.0 L612.1,282.0 L655.0,283.6 M569.3,284.1 L612.1,292.9 L655.0,284.4 M569.3,282.9 L612.1,293.5 L655.0,280.8 M569.3,274.5 L612.1,281.3 L655.0,291.2 M569.3,281.7 L612.1,279.1 L655.0,283.9 M569.3,286.7 L612.1,292.1 L655.0,286.9 M569.3,277.5 L612.1,274.7 L655.0,293.9 M569.3,267.9 L612.1,256.4 L655.0,274.1 M569.3,278.1 L612.1,274.2 L655.0,294.6 M569.3,283.7 L612.1,260.4 L655.0,296.8 M569.3,289.0 L612.1,280.4 L655.0,293.9 M569.3,284.7 L612.1,292.7 L655.0,271.7 M569.3,285.0 L612.1,287.8 L655.0,297.6 M569.3,270.1 L612.1,281.5 L655.0,280.1 M569.3,256.7 L612.1,276.7 L655.0,291.3 M569.3,288.1 L612.1,286.3 L655.0,278.4 M569.3,289.3 L612.1,289.1 L655.0,291.2 M569.3,271.7 L612.1,288.8 L655.0,282.4 M569.3,269.9 L612.1,281.7 L655.0,285.7 M569.3,272.2 L612.1,275.9 L655.0,271.4 M569.3,288.5 L612.1,275.8 L655.0,291.4 M569.3,288.9 L612.1,290.8 L655.0,296.3 M569.3,281.4 L612.1,274.2 L655.0,298.5 M569.3,289.2 L612.1,281.0 L655.0,292.1 M569.3,269.8 L612.1,291.1 L655.0,285.3 M569.3,296.2 L612.1,294.9 L655.0,288.9 M569.3,263.3 L612.1,256.8 L655.0,283.9 M569.3,287.1 L612.1,289.2 L655.0,298.3 M569.3,260.9 L612.1,263.9 L655.0,290.0 M569.3,251.5 L612.1,288.9 L655.0,274.7 M569.3,286.6 L612.1,295.7 L655.0,286.5 M569.3,289.0 L612.1,276.5 L655.0,295.0 M569.3,278.3 L612.1,287.4 L655.0,285.8 M569.3,285.2 L612.1,278.5 L655.0,284.1 M569.3,278.7 L612.1,284.8 L655.0,263.3 M569.3,285.7 L612.1,289.1 L655.0,282.8 M569.3,279.6 L612.1,294.1 L655.0,288.3 M569.3,283.1 L612.1,291.7 L655.0,286.8 M569.3,288.9 L612.1,288.9 L655.0,295.9 M569.3,257.0 L612.1,281.3 L655.0,277.4 M569.3,276.3 L612.1,275.9 L655.0,287.5 M569.3,270.4 L612.1,280.3 L655.0,298.0 M569.3,276.0 L612.1,291.9 L655.0,276.9 M569.3,277.1 L612.1,286.3 L655.0,298.8 M569.3,294.3 L612.1,295.5 L655.0,294.3 M569.3,290.4 L612.1,267.3 L655.0,287.6 M569.3,280.4 L612.1,291.0 L655.0,289.8 M569.3,281.8 L612.1,288.0 L655.0,288.4 M569.3,269.6 L612.1,293.3 L655.0,282.7 M569.3,265.1 L612.1,290.7 L655.0,285.4 M569.3,283.1 L612.1,292.4 L655.0,279.9 M569.3,282.6 L612.1,273.4 L655.0,284.9 M569.3,282.2 L612.1,282.4 L655.0,290.5 M569.3,291.9 L612.1,276.0 L655.0,289.0 M569.3,264.3 L612.1,292.9 L655.0,271.6 M569.3,269.4 L612.1,281.6 L655.0,296.9 M569.3,278.4 L612.1,288.7 L655.0,288.4 M569.3,278.9 L612.1,290.2 L655.0,288.0 M569.3,279.3 L612.1,267.4 L655.0,287.9 M569.3,262.9 L612.1,291.5 L655.0,276.7 M569.3,275.0 L612.1,287.5 L655.0,287.9 M569.3,257.3 L612.1,282.9 L655.0,279.3 M569.3,274.6 L612.1,268.7 L655.0,297.2 M569.3,291.0 L612.1,295.2 L655.0,292.6 M569.3,272.3 L612.1,272.9 L655.0,287.6 M569.3,257.9 L612.1,279.4 L655.0,274.6 M569.3,286.2 L612.1,278.8 L655.0,293.4 M569.3,264.2 L612.1,269.8 L655.0,257.5 M569.3,283.5 L612.1,292.6 L655.0,281.3 M569.3,276.0 L612.1,287.1 L655.0,294.5 M569.3,269.7 L612.1,294.2 L655.0,288.4 M569.3,265.7 L612.1,282.7 L655.0,279.3 M569.3,273.9 L612.1,276.3 L655.0,274.8 M569.3,271.7 L612.1,285.0 L655.0,293.4 M569.3,282.2 L612.1,289.5 L655.0,284.8 M569.3,263.0 L612.1,270.5 L655.0,288.9 M569.3,277.3 L612.1,283.3 L655.0,290.0 M569.3,261.8 L612.1,272.4 L655.0,279.4 M569.3,289.5 L612.1,299.0 L655.0,294.3 M569.3,264.5 L612.1,282.1 L655.0,283.9 M569.3,282.0 L612.1,280.5 L655.0,288.0 M569.3,254.0 L612.1,279.1 L655.0,284.1 M569.3,259.7 L612.1,270.0 L655.0,275.0 M569.3,273.4 L612.1,282.6 L655.0,282.8 M569.3,273.3 L612.1,281.2 L655.0,296.4 M569.3,260.5 L612.1,283.7 L655.0,287.6 M569.3,282.8 L612.1,290.0 L655.0,293.5 M569.3,280.3 L612.1,275.5 L655.0,289.5 M569.3,274.1 L612.1,291.9 L655.0,278.5 M569.3,288.9 L612.1,281.5 L655.0,294.2 M569.3,285.0 L612.1,293.4 L655.0,295.7 M569.3,281.7 L612.1,291.2 L655.0,289.4 M569.3,264.6 L612.1,287.2 L655.0,286.4 M569.3,280.5 L612.1,288.8 L655.0,287.7 M569.3,276.9 L612.1,272.0 L655.0,291.5 M569.3,281.6 L612.1,285.9 L655.0,276.1 M569.3,288.0 L612.1,285.6 L655.0,283.9 M569.3,272.6 L612.1,287.7 L655.0,292.5 M569.3,293.0 L612.1,292.1 L655.0,293.2 M569.3,291.1 L612.1,281.5 L655.0,290.0 M569.3,281.8 L612.1,288.6 L655.0,284.0 M569.3,282.3 L612.1,280.3 L655.0,291.2 M569.3,265.9 L612.1,292.2 L655.0,291.7 M569.3,252.2 L612.1,263.4 L655.0,257.3 M569.3,286.5 L612.1,280.0 L655.0,281.0 M569.3,268.0 L612.1,282.6 L655.0,266.5 M569.3,274.8 L612.1,291.7 L655.0,250.7 M569.3,278.1 L612.1,269.7 L655.0,291.5 M569.3,287.5 L612.1,279.0 L655.0,283.2 M569.3,286.1 L612.1,284.2 L655.0,296.1 M569.3,293.9 L612.1,281.1 L655.0,297.2 M569.3,270.5 L612.1,269.1 L655.0,281.5 M569.3,257.9 L612.1,274.5 L655.0,279.3 M569.3,279.4 L612.1,280.1 L655.0,284.3 M569.3,287.5 L612.1,287.1 L655.0,292.0 M569.3,272.5 L612.1,293.6 L655.0,285.0 M569.3,251.8 L612.1,276.5 L655.0,263.9 M569.3,283.0 L612.1,281.1 L655.0,285.3 M569.3,294.6 L612.1,294.0 L655.0,276.8 M569.3,286.8 L612.1,275.0 L655.0,272.5 M569.3,279.9 L612.1,273.9 L655.0,284.3 M569.3,284.9 L612.1,280.7 L655.0,285.5 M569.3,287.9 L612.1,289.8 L655.0,296.5 M569.3,282.7 L612.1,285.3 L655.0,293.9 M569.3,293.0 L612.1,284.2 L655.0,282.3 M569.3,287.3 L612.1,286.1 L655.0,293.5 M569.3,296.3 L612.1,272.0 L655.0,291.8 M569.3,290.6 L612.1,276.7 L655.0,285.6 M569.3,259.8 L612.1,270.3 L655.0,277.0 M569.3,259.4 L612.1,281.7 L655.0,280.2 M569.3,288.6 L612.1,293.7 L655.0,288.6 M569.3,276.9 L612.1,293.5 L655.0,283.3 M569.3,266.6 L612.1,290.2 L655.0,286.9 M569.3,254.0 L612.1,285.7 L655.0,275.1 M569.3,269.9 L612.1,279.6 L655.0,283.5 M569.3,272.9 L612.1,279.3 L655.0,284.2 M569.3,291.0 L612.1,286.4 L655.0,295.0 M569.3,294.4 L612.1,282.3 L655.0,291.7 M569.3,288.6 L612.1,294.0 L655.0,281.5 M569.3,285.4 L612.1,286.5 L655.0,288.5 M569.3,267.6 L612.1,296.8 L655.0,270.1 M569.3,286.6 L612.1,289.2 L655.0,284.6 M569.3,275.4 L612.1,296.2 L655.0,280.6 M569.3,281.0 L612.1,291.4 L655.0,291.7 M569.3,291.7 L612.1,282.3 L655.0,279.1 M569.3,285.2 L612.1,289.1 L655.0,296.4 M569.3,285.8 L612.1,292.4 L655.0,289.0 M569.3,253.5 L612.1,263.6 L655.0,269.4 M569.3,287.8 L612.1,279.6 L655.0,293.8 M569.3,287.2 L612.1,280.3 L655.0,290.2 M569.3,270.5 L612.1,290.2 L655.0,278.2 M569.3,257.0 L612.1,279.9 L655.0,286.7 M569.3,264.8 L612.1,289.1 L655.0,280.0 M569.3,284.4 L612.1,283.1 L655.0,293.3 M569.3,272.4 L612.1,276.2 L655.0,263.6 M569.3,283.0 L612.1,281.2 L655.0,297.2 M569.3,286.4 L612.1,284.2 L655.0,296.3 M569.3,280.5 L612.1,290.6 L655.0,283.5 M569.3,272.5 L612.1,286.0 L655.0,279.1 M569.3,284.6 L612.1,284.7 L655.0,284.7 M569.3,273.0 L612.1,276.1 L655.0,264.9 M569.3,285.3 L612.1,287.1 L655.0,297.7 M569.3,268.7 L612.1,289.7 L655.0,289.2 M569.3,284.2 L612.1,282.0 L655.0,290.5 M569.3,282.2 L612.1,284.2 L655.0,290.3 M569.3,279.7 L612.1,290.9 L655.0,291.0 M569.3,289.4 L612.1,280.3 L655.0,283.5 M569.3,271.6 L612.1,278.5 L655.0,289.7 M569.3,273.0 L612.1,292.7 L655.0,298.4 M569.3,289.2 L612.1,273.0 L655.0,288.7 M569.3,257.2 L612.1,285.1 L655.0,269.9 M569.3,256.5 L612.1,265.5 L655.0,279.1 M569.3,265.5 L612.1,284.4 L655.0,260.2 M569.3,289.0 L612.1,291.9 L655.0,290.1 M569.3,286.3 L612.1,267.3 L655.0,284.0 M569.3,286.0 L612.1,268.3 L655.0,276.7 M569.3,283.1 L612.1,268.0 L655.0,277.2 M569.3,284.2 L612.1,289.4 L655.0,286.2 M569.3,264.4 L612.1,258.4 L655.0,264.4 M569.3,284.0 L612.1,295.5 L655.0,297.1 M569.3,258.0 L612.1,264.9 L655.0,267.5 M569.3,279.5 L612.1,283.2 L655.0,283.1 M569.3,274.2 L612.1,281.7 L655.0,292.4 M569.3,290.4 L612.1,286.8 L655.0,291.7 M569.3,259.7 L612.1,288.0 L655.0,295.5 M569.3,293.5 L612.1,289.5 L655.0,278.4 M569.3,282.8 L612.1,289.9 L655.0,285.2 M569.3,257.4 L612.1,264.3 L655.0,271.9 M569.3,267.8 L612.1,283.5 L655.0,283.6 M569.3,274.8 L612.1,259.0 L655.0,297.7 M569.3,284.5 L612.1,282.5 L655.0,290.3 M569.3,280.8 L612.1,286.4 L655.0,293.4 M569.3,273.7 L612.1,267.0 L655.0,288.5 M569.3,274.5 L612.1,270.1 L655.0,290.6 M569.3,280.4 L612.1,292.7 L655.0,270.6 M569.3,253.9 L612.1,279.9 L655.0,250.2 M569.3,268.9 L612.1,293.5 L655.0,279.9 M569.3,276.7 L612.1,278.3 L655.0,280.2 M569.3,283.7 L612.1,274.1 L655.0,286.1 M569.3,250.1 L612.1,278.3 L655.0,296.8 M569.3,249.8 L612.1,270.1 L655.0,294.0 M569.3,285.0 L612.1,291.0 L655.0,280.9 M569.3,285.2 L612.1,274.6 L655.0,292.1 M569.3,267.3 L612.1,286.0 L655.0,292.6 M569.3,272.6 L612.1,284.1 L655.0,280.6 M569.3,292.0 L612.1,294.2 L655.0,293.3 M569.3,248.4 L612.1,271.9 L655.0,293.2 M569.3,298.0 L612.1,277.4 L655.0,292.6 M569.3,289.7 L612.1,279.2 L655.0,284.1 M569.3,269.4 L612.1,291.2 L655.0,288.3 M569.3,288.0 L612.1,290.6 L655.0,296.3 M569.3,290.8 L612.1,294.2 L655.0,288.3 M569.3,279.1 L612.1,284.5 L655.0,283.1 M569.3,270.4 L612.1,276.6 L655.0,256.5 M569.3,276.3 L612.1,279.4 L655.0,289.9 M569.3,265.4 L612.1,261.3 L655.0,299.2 M569.3,269.4 L612.1,289.7 L655.0,281.4 M569.3,278.6 L612.1,292.2 L655.0,294.9 M569.3,282.0 L612.1,247.6 L655.0,295.0 M569.3,283.3 L612.1,287.4 L655.0,290.1 M569.3,264.8 L612.1,248.7 L655.0,284.1 M569.3,274.8 L612.1,285.4 L655.0,267.8 M569.3,280.0 L612.1,277.6 L655.0,288.8 M569.3,264.7 L612.1,280.8 L655.0,290.2 M569.3,249.8 L612.1,292.2 L655.0,279.0 M569.3,282.9 L612.1,291.2 L655.0,264.0 M569.3,275.7 L612.1,286.2 L655.0,292.2 M569.3,275.7 L612.1,282.9 L655.0,288.1 M569.3,285.5 L612.1,270.0 L655.0,287.4 M569.3,281.3 L612.1,292.6 L655.0,292.6 M569.3,270.6 L612.1,287.6 L655.0,278.6 M569.3,280.6 L612.1,280.8 L655.0,284.7 M569.3,283.6 L612.1,287.3 L655.0,288.9 M569.3,290.0 L612.1,263.2 L655.0,291.3 M569.3,285.7 L612.1,285.1 L655.0,289.5 M569.3,276.7 L612.1,283.4 L655.0,286.7 M569.3,262.4 L612.1,255.2 L655.0,282.3 M569.3,256.5 L612.1,266.4 L655.0,266.8 M569.3,276.5 L612.1,281.2 L655.0,278.9 M569.3,287.7 L612.1,286.4 L655.0,295.7 M569.3,268.1 L612.1,278.8 L655.0,278.4 M569.3,282.7 L612.1,290.3 L655.0,279.6 M569.3,283.5 L612.1,286.9 L655.0,288.1 M569.3,274.2 L612.1,281.9 L655.0,292.7 M569.3,288.3 L612.1,278.0 L655.0,291.9 M569.3,281.8 L612.1,290.8 L655.0,279.5 M569.3,274.1 L612.1,286.8 L655.0,295.9 M569.3,252.1 L612.1,283.0 L655.0,290.6 M569.3,284.1 L612.1,292.6 L655.0,288.6 M569.3,284.6 L612.1,293.0 L655.0,283.2 M569.3,286.9 L612.1,296.2 L655.0,287.0 M569.3,284.6 L612.1,292.5 L655.0,297.1 M569.3,285.8 L612.1,290.1 L655.0,292.1 M569.3,284.2 L612.1,272.7 L655.0,279.2 M569.3,276.0 L612.1,277.4 L655.0,289.6 M569.3,290.9 L612.1,284.1 L655.0,279.6 M569.3,285.7 L612.1,290.6 L655.0,293.2 M569.3,290.1 L612.1,283.5 L655.0,296.0 M569.3,260.5 L612.1,255.0 L655.0,282.0 M569.3,279.9 L612.1,290.2 L655.0,279.0 M569.3,278.6 L612.1,293.3 L655.0,292.9 M569.3,274.1 L612.1,286.5 L655.0,281.8 M569.3,276.8 L612.1,266.4 L655.0,287.3 M569.3,265.8 L612.1,266.8 L655.0,268.0 M569.3,282.8 L612.1,282.7 L655.0,255.2 M569.3,281.4 L612.1,289.0 L655.0,286.8 M569.3,289.2 L612.1,292.5 L655.0,292.8 M569.3,282.2 L612.1,274.9 L655.0,294.4 M569.3,281.3 L612.1,282.3 L655.0,289.8 M569.3,270.5 L612.1,248.0 L655.0,292.4 M569.3,287.0 L612.1,290.0 L655.0,292.8 M569.3,284.5 L612.1,282.0 L655.0,270.7 M569.3,257.0 L612.1,278.3 L655.0,285.9 M569.3,265.2 L612.1,281.3 L655.0,285.7 M569.3,287.1 L612.1,278.3 L655.0,282.8 M569.3,286.9 L612.1,290.2 L655.0,278.6 M569.3,285.9 L612.1,289.0 L655.0,293.6 M569.3,281.8 L612.1,276.4 L655.0,287.4 M569.3,266.8 L612.1,274.0 L655.0,296.3 M569.3,279.6 L612.1,284.2 L655.0,296.3 M569.3,270.0 L612.1,281.8 L655.0,288.8 M569.3,273.5 L612.1,271.7 L655.0,278.7 M569.3,284.4 L612.1,285.8 L655.0,258.5 M569.3,289.9 L612.1,287.2 L655.0,290.3 M569.3,258.2 L612.1,271.4 L655.0,280.1 M569.3,282.3 L612.1,272.0 L655.0,287.5 M569.3,280.4 L612.1,282.8 L655.0,281.5 M569.3,279.1 L612.1,281.6 L655.0,279.8 M569.3,285.9 L612.1,287.8 L655.0,288.7 M569.3,271.3 L612.1,275.9 L655.0,288.9 M569.3,288.2 L612.1,289.5 L655.0,292.8 M569.3,268.4 L612.1,274.1 L655.0,283.9 M569.3,288.5 L612.1,294.4 L655.0,289.2 M569.3,272.3 L612.1,278.2 L655.0,287.4 M569.3,272.8 L612.1,294.6 L655.0,273.2 M569.3,258.1 L612.1,276.8 L655.0,279.9 M569.3,281.5 L612.1,275.9 L655.0,293.4 M569.3,284.8 L612.1,282.4 L655.0,296.2 M569.3,273.8 L612.1,277.8 L655.0,285.8 M569.3,284.1 L612.1,265.9 L655.0,292.0 M569.3,277.8 L612.1,275.3 L655.0,286.9 M569.3,266.0 L612.1,280.4 L655.0,281.5 M569.3,279.5 L612.1,277.7 L655.0,291.5 M569.3,268.4 L612.1,268.8 L655.0,291.9 M569.3,291.1 L612.1,295.1 L655.0,295.1 M569.3,271.3 L612.1,281.1 L655.0,260.7 M569.3,256.7 L612.1,290.6 L655.0,285.6 M569.3,282.4 L612.1,266.9 L655.0,281.3 M569.3,267.9 L612.1,287.5 L655.0,256.0 M569.3,288.7 L612.1,287.0 L655.0,295.2 M569.3,287.2 L612.1,284.7 L655.0,294.5 M569.3,271.3 L612.1,276.4 L655.0,284.7 M569.3,272.0 L612.1,268.8 L655.0,273.6 M569.3,288.9 L612.1,282.0 L655.0,283.3 M569.3,283.1 L612.1,288.0 L655.0,276.9 M569.3,271.6 L612.1,280.5 L655.0,268.6 M569.3,267.8 L612.1,256.9 L655.0,287.5 M569.3,267.0 L612.1,294.0 L655.0,289.2 M569.3,254.9 L612.1,286.7 L655.0,283.2 M569.3,282.8 L612.1,280.8 L655.0,277.6 M569.3,256.2 L612.1,279.9 L655.0,278.5 M569.3,268.6 L612.1,267.0 L655.0,286.8 M569.3,260.9 L612.1,290.5 L655.0,280.1 M569.3,290.4 L612.1,290.8 L655.0,294.9 M569.3,252.8 L612.1,251.9 L655.0,272.1 M569.3,277.7 L612.1,295.2 L655.0,296.2 M569.3,277.5 L612.1,276.1 L655.0,282.2 M569.3,286.0 L612.1,291.2 L655.0,285.0 M569.3,280.6 L612.1,280.3 L655.0,285.0 M569.3,290.7 L612.1,273.6 L655.0,287.8 M569.3,273.0 L612.1,285.9 L655.0,273.8 M569.3,266.6 L612.1,286.7 L655.0,272.6 M569.3,285.9 L612.1,296.0 L655.0,282.3 M569.3,287.9 L612.1,290.5 L655.0,294.9 M569.3,280.2 L612.1,287.0 L655.0,286.2 M569.3,274.1 L612.1,261.9 L655.0,281.7 M569.3,273.6 L612.1,277.4 L655.0,277.7 M569.3,268.3 L612.1,278.0 L655.0,292.5 M569.3,287.7 L612.1,284.6 L655.0,291.7 M569.3,283.4 L612.1,288.9 L655.0,292.8 M569.3,265.3 L612.1,271.2 L655.0,292.7 M569.3,277.4 L612.1,283.5 L655.0,290.0 M569.3,266.0 L612.1,277.1 L655.0,283.3 M569.3,287.0 L612.1,278.0 L655.0,287.8 M569.3,276.4 L612.1,288.3 L655.0,269.8 M569.3,297.8 L612.1,297.5 L655.0,299.8 M569.3,289.9 L612.1,293.5 L655.0,293.4 M569.3,282.7 L612.1,283.4 L655.0,274.9 M569.3,272.9 L612.1,281.0 L655.0,286.8 M569.3,275.2 L612.1,274.3 L655.0,291.2 M569.3,253.3 L612.1,277.9 L655.0,271.1 M569.3,295.6 L612.1,289.3 L655.0,294.9 M569.3,260.7 L612.1,266.5 L655.0,279.6 M569.3,272.1 L612.1,284.6 L655.0,291.7 M569.3,264.5 L612.1,289.6 L655.0,287.9 M569.3,289.1 L612.1,292.9 L655.0,292.6 M569.3,269.2 L612.1,288.8 L655.0,277.2 M569.3,293.0 L612.1,293.6 L655.0,295.9 M569.3,271.6 L612.1,265.7 L655.0,297.7 M569.3,278.7 L612.1,264.6 L655.0,286.8 M569.3,255.4 L612.1,262.5 L655.0,278.9 M569.3,290.6 L612.1,291.9 L655.0,277.5 M569.3,287.2 L612.1,293.1 L655.0,292.3 M569.3,262.5 L612.1,278.5 L655.0,293.7 M569.3,285.2 L612.1,279.9 L655.0,278.7 M569.3,257.7 L612.1,272.6 L655.0,277.3 M569.3,287.7 L612.1,290.5 L655.0,296.5 M569.3,280.9 L612.1,280.8 L655.0,287.3 M569.3,287.5 L612.1,282.0 L655.0,282.3 M569.3,262.9 L612.1,294.3 L655.0,297.4 M569.3,288.6 L612.1,282.8 L655.0,281.8 M569.3,270.7 L612.1,281.2 L655.0,282.8 M569.3,281.9 L612.1,289.5 L655.0,293.8 M569.3,273.2 L612.1,272.5 L655.0,286.0 M569.3,267.8 L612.1,251.6 L655.0,289.3 M569.3,284.8 L612.1,292.1 L655.0,291.1 M569.3,289.5 L612.1,285.0 L655.0,285.5 M569.3,263.4 L612.1,263.0 L655.0,286.6 M569.3,277.4 L612.1,289.2 L655.0,286.1 M569.3,278.5 L612.1,279.0 L655.0,287.4 M569.3,288.4 L612.1,278.3 L655.0,290.8 M569.3,290.4 L612.1,296.4 L655.0,285.9 M569.3,292.6 L612.1,283.9 L655.0,279.5 M569.3,273.3 L612.1,273.6 L655.0,280.3 M569.3,284.9 L612.1,284.0 L655.0,297.8 M569.3,272.2 L612.1,275.3 L655.0,284.1 M569.3,265.5 L612.1,281.9 L655.0,294.8 M569.3,259.9 L612.1,278.0 L655.0,287.8 M569.3,284.3 L612.1,288.2 L655.0,287.1 M569.3,289.7 L612.1,286.8 L655.0,292.5 M569.3,271.8 L612.1,284.6 L655.0,279.1 M569.3,287.1 L612.1,283.7 L655.0,291.4 M569.3,265.8 L612.1,276.4 L655.0,272.5 M569.3,283.9 L612.1,289.6 L655.0,288.7 M569.3,288.1 L612.1,288.8 L655.0,279.2 M569.3,288.4 L612.1,290.7 L655.0,289.5 M569.3,283.8 L612.1,283.2 L655.0,292.5 M569.3,293.5 L612.1,285.2 L655.0,289.8 M569.3,276.4 L612.1,277.8 L655.0,284.8 M569.3,285.1 L612.1,280.4 L655.0,289.1 M569.3,277.7 L612.1,291.0 L655.0,286.0 M569.3,280.0 L612.1,290.1 L655.0,292.2 M569.3,283.5 L612.1,285.2 L655.0,292.3 M569.3,288.5 L612.1,286.6 L655.0,296.1 M569.3,275.9 L612.1,289.3 L655.0,287.8 M569.3,265.1 L612.1,294.7 L655.0,293.0 M569.3,284.3 L612.1,286.6 L655.0,293.7 M569.3,287.5 L612.1,290.7 L655.0,295.0 M569.3,278.4 L612.1,288.8 L655.0,288.1 M569.3,279.1 L612.1,277.4 L655.0,291.3 M569.3,283.5 L612.1,281.7 L655.0,298.4 M569.3,278.9 L612.1,290.2 L655.0,279.1 M569.3,282.6 L612.1,290.8 L655.0,278.8 M569.3,284.5 L612.1,291.3 L655.0,285.3 M569.3,293.3 L612.1,290.2 L655.0,287.4 M569.3,289.6 L612.1,279.7 L655.0,292.2 M569.3,284.5 L612.1,295.0 L655.0,275.5 M569.3,261.5 L612.1,282.6 L655.0,279.4 M569.3,293.1 L612.1,288.7 L655.0,289.6 M569.3,286.2 L612.1,290.4 L655.0,290.6 M569.3,286.6 L612.1,295.5 L655.0,283.6 M569.3,268.9 L612.1,275.1 L655.0,277.4 M569.3,266.5 L612.1,283.5 L655.0,299.1 M569.3,279.3 L612.1,288.1 L655.0,294.2 M569.3,274.0 L612.1,289.9 L655.0,293.4 M569.3,272.9 L612.1,276.2 L655.0,286.4 M569.3,273.8 L612.1,283.2 L655.0,289.1 M569.3,282.1 L612.1,279.3 L655.0,282.3 M569.3,274.7 L612.1,292.7 L655.0,287.7 M569.3,273.8 L612.1,285.6 L655.0,281.4 M569.3,278.3 L612.1,271.0 L655.0,298.2 M569.3,277.7 L612.1,272.4 L655.0,280.8 M569.3,284.2 L612.1,287.1 L655.0,290.9" fill="none" stroke="#dc3545" stroke-width="0.5" stroke-opacity="0.17"/>
<line x1="569.30" y1="244.51" x2="569.30" y2="298.02" stroke="#dc3545" stroke-width="1.3" stroke-opacity="0.9"/>
<line x1="612.10" y1="247.42" x2="612.10" y2="300.57" stroke="#dc3545" stroke-width="1.3" stroke-opacity="0.9"/>
<line x1="655.00" y1="248.15" x2="655.00" y2="302.39" stroke="#dc3545" stroke-width="1.3" stroke-opacity="0.9"/>
<polyline points="569.3,278.0 612.1,282.1 655.0,285.7" fill="none" stroke="#dcdcdc" stroke-width="1.6" stroke-dasharray="3,2"/>
<circle cx="569.30" cy="278.03" r="3.20" fill="#9a9a9a"/>
<circle cx="612.10" cy="282.13" r="3.20" fill="#9a9a9a"/>
<circle cx="655.00" cy="285.66" r="3.20" fill="#9a9a9a"/>
<text x="564.60" y="252.70" font-size="5.8" text-anchor="end" fill="#444">150</text>
<text x="564.60" y="270.90" font-size="5.8" text-anchor="end" fill="#444">100</text>
<text x="564.60" y="289.10" font-size="5.8" text-anchor="end" fill="#444">50</text>
<text transform="translate(551.3,277.3) rotate(-90)" font-size="7" text-anchor="middle" fill="#231f20" textLength="53" lengthAdjust="spacingAndGlyphs">Network strength</text>
<text x="569.30" y="309.00" font-size="7" text-anchor="middle" fill="#231f20" textLength="19.20" lengthAdjust="spacingAndGlyphs">Age 14</text>
<text x="612.10" y="309.00" font-size="7" text-anchor="middle" fill="#231f20" textLength="19.20" lengthAdjust="spacingAndGlyphs">Age 19</text>
<text x="655.00" y="309.00" font-size="7" text-anchor="middle" fill="#231f20" textLength="19.20" lengthAdjust="spacingAndGlyphs">Age 23</text>
<circle cx="655.00" cy="241.60" r="0.65" fill="#dc3545" fill-opacity="0.8"/>
<path d="M567.3,331.8 L610.9,360.8 L654.3,353.3 M567.3,356.3 L610.9,354.2 L654.3,378.7 M567.3,362.6 L610.9,371.7 L654.3,377.6 M567.3,367.4 L610.9,371.0 L654.3,371.5 M567.3,368.1 L610.9,362.1 L654.3,374.3 M567.3,366.3 L610.9,363.0 L654.3,366.1 M567.3,357.3 L610.9,371.0 L654.3,363.6 M567.3,375.2 L610.9,354.4 L654.3,383.5 M567.3,360.3 L610.9,363.5 L654.3,364.2 M567.3,360.6 L610.9,366.6 L654.3,372.0 M567.3,342.3 L610.9,368.6 L654.3,362.6 M567.3,377.1 L610.9,347.3 L654.3,366.2 M567.3,359.5 L610.9,363.0 L654.3,381.6 M567.3,356.3 L610.9,380.8 L654.3,365.2 M567.3,372.0 L610.9,351.5 L654.3,361.4 M567.3,360.1 L610.9,374.7 L654.3,364.8 M567.3,348.2 L610.9,361.6 L654.3,368.0 M567.3,350.5 L610.9,364.7 L654.3,356.1 M567.3,363.0 L610.9,349.9 L654.3,371.3 M567.3,371.5 L610.9,367.6 L654.3,377.5 M567.3,370.1 L610.9,369.4 L654.3,363.4 M567.3,361.0 L610.9,357.2 L654.3,380.8 M567.3,351.8 L610.9,364.4 L654.3,363.7 M567.3,361.8 L610.9,368.6 L654.3,373.3 M567.3,354.6 L610.9,342.1 L654.3,355.2 M567.3,349.5 L610.9,355.7 L654.3,368.7 M567.3,352.3 L610.9,341.6 L654.3,377.5 M567.3,349.7 L610.9,351.1 L654.3,361.1 M567.3,350.0 L610.9,347.5 L654.3,342.0 M567.3,344.1 L610.9,342.8 L654.3,358.6 M567.3,349.4 L610.9,359.1 L654.3,360.6 M567.3,364.0 L610.9,358.8 L654.3,353.9 M567.3,360.4 L610.9,361.8 L654.3,360.9 M567.3,358.3 L610.9,354.3 L654.3,363.7 M567.3,371.8 L610.9,378.0 L654.3,363.4 M567.3,351.3 L610.9,350.3 L654.3,361.4 M567.3,356.1 L610.9,378.2 L654.3,351.7 M567.3,368.8 L610.9,356.5 L654.3,380.7 M567.3,365.8 L610.9,364.3 L654.3,372.7 M567.3,366.2 L610.9,357.1 L654.3,362.0 M567.3,353.8 L610.9,365.2 L654.3,372.7 M567.3,363.6 L610.9,370.2 L654.3,368.0 M567.3,349.5 L610.9,362.1 L654.3,370.9 M567.3,365.2 L610.9,352.9 L654.3,366.6 M567.3,355.5 L610.9,359.5 L654.3,359.2 M567.3,356.6 L610.9,351.1 L654.3,357.3 M567.3,372.5 L610.9,366.5 L654.3,359.8 M567.3,358.0 L610.9,349.9 L654.3,378.1 M567.3,372.1 L610.9,369.4 L654.3,377.5 M567.3,370.1 L610.9,361.3 L654.3,366.9 M567.3,357.8 L610.9,366.8 L654.3,363.0 M567.3,359.3 L610.9,370.5 L654.3,361.1 M567.3,353.8 L610.9,360.8 L654.3,357.5 M567.3,370.3 L610.9,368.3 L654.3,374.8 M567.3,343.0 L610.9,353.1 L654.3,340.1 M567.3,340.3 L610.9,360.8 L654.3,370.6 M567.3,352.5 L610.9,363.9 L654.3,365.4 M567.3,369.8 L610.9,360.9 L654.3,367.7 M567.3,353.4 L610.9,358.4 L654.3,373.0 M567.3,383.0 L610.9,373.7 L654.3,380.0 M567.3,363.9 L610.9,355.5 L654.3,368.5 M567.3,341.0 L610.9,355.6 L654.3,353.4 M567.3,352.3 L610.9,353.2 L654.3,376.0 M567.3,345.7 L610.9,357.9 L654.3,371.2 M567.3,351.1 L610.9,357.3 L654.3,350.8 M567.3,349.7 L610.9,356.7 L654.3,378.9 M567.3,339.2 L610.9,342.3 L654.3,352.0 M567.3,352.8 L610.9,349.4 L654.3,372.4 M567.3,350.1 L610.9,360.1 L654.3,372.8 M567.3,353.8 L610.9,358.1 L654.3,347.7 M567.3,347.4 L610.9,375.1 L654.3,381.3 M567.3,358.8 L610.9,365.2 L654.3,375.0 M567.3,374.3 L610.9,370.1 L654.3,382.2 M567.3,365.7 L610.9,357.0 L654.3,365.8 M567.3,366.4 L610.9,376.6 L654.3,370.2 M567.3,338.5 L610.9,361.5 L654.3,342.4 M567.3,366.8 L610.9,367.8 L654.3,361.7 M567.3,366.6 L610.9,365.2 L654.3,381.6 M567.3,350.5 L610.9,349.2 L654.3,369.5 M567.3,353.6 L610.9,359.8 L654.3,341.1 M567.3,378.4 L610.9,372.6 L654.3,376.4 M567.3,360.3 L610.9,356.9 L654.3,373.4 M567.3,372.8 L610.9,378.7 L654.3,366.0 M567.3,347.3 L610.9,351.6 L654.3,346.6 M567.3,363.8 L610.9,355.1 L654.3,360.8 M567.3,359.8 L610.9,370.8 L654.3,357.7 M567.3,365.6 L610.9,368.3 L654.3,377.6 M567.3,338.4 L610.9,357.1 L654.3,364.1 M567.3,360.7 L610.9,366.0 L654.3,365.7 M567.3,377.1 L610.9,380.5 L654.3,366.9 M567.3,345.8 L610.9,368.8 L654.3,360.6 M567.3,370.1 L610.9,358.4 L654.3,371.6 M567.3,358.4 L610.9,377.3 L654.3,364.4 M567.3,379.8 L610.9,367.9 L654.3,359.3 M567.3,371.5 L610.9,359.0 L654.3,356.4 M567.3,360.2 L610.9,352.8 L654.3,365.6 M567.3,374.6 L610.9,345.1 L654.3,368.5 M567.3,359.9 L610.9,376.7 L654.3,349.5 M567.3,371.0 L610.9,352.7 L654.3,359.3 M567.3,357.1 L610.9,369.1 L654.3,365.8 M567.3,372.8 L610.9,361.4 L654.3,354.0 M567.3,348.0 L610.9,349.4 L654.3,369.2 M567.3,354.5 L610.9,371.8 L654.3,368.9 M567.3,349.8 L610.9,335.8 L654.3,362.3 M567.3,357.6 L610.9,381.3 L654.3,363.8 M567.3,368.2 L610.9,379.9 L654.3,383.5 M567.3,356.4 L610.9,366.3 L654.3,358.5 M567.3,360.6 L610.9,363.8 L654.3,352.2 M567.3,348.9 L610.9,352.5 L654.3,348.3 M567.3,355.5 L610.9,371.8 L654.3,372.6 M567.3,375.5 L610.9,365.2 L654.3,375.3 M567.3,352.2 L610.9,352.9 L654.3,371.7 M567.3,355.9 L610.9,349.8 L654.3,364.1 M567.3,347.5 L610.9,361.4 L654.3,371.5 M567.3,363.8 L610.9,351.6 L654.3,379.6 M567.3,356.5 L610.9,359.1 L654.3,367.1 M567.3,353.6 L610.9,368.9 L654.3,374.8 M567.3,373.8 L610.9,373.6 L654.3,378.8 M567.3,355.3 L610.9,365.7 L654.3,371.2 M567.3,353.3 L610.9,374.5 L654.3,366.6 M567.3,350.3 L610.9,367.3 L654.3,361.3 M567.3,362.8 L610.9,340.3 L654.3,353.5 M567.3,344.6 L610.9,365.3 L654.3,354.9 M567.3,359.8 L610.9,360.0 L654.3,371.9 M567.3,356.2 L610.9,369.9 L654.3,362.2 M567.3,338.0 L610.9,369.9 L654.3,372.1 M567.3,352.2 L610.9,353.2 L654.3,367.5 M567.3,351.2 L610.9,356.5 L654.3,358.0 M567.3,342.3 L610.9,364.2 L654.3,354.0 M567.3,355.7 L610.9,369.0 L654.3,359.9 M567.3,370.5 L610.9,350.3 L654.3,359.4 M567.3,358.8 L610.9,379.4 L654.3,350.4 M567.3,362.0 L610.9,351.1 L654.3,371.4 M567.3,367.4 L610.9,370.7 L654.3,365.0 M567.3,347.8 L610.9,362.0 L654.3,382.7 M567.3,354.5 L610.9,352.1 L654.3,341.7 M567.3,356.1 L610.9,360.6 L654.3,370.5 M567.3,349.4 L610.9,342.6 L654.3,372.8 M567.3,357.1 L610.9,373.0 L654.3,372.2 M567.3,360.1 L610.9,358.8 L654.3,374.7 M567.3,361.4 L610.9,350.5 L654.3,361.8 M567.3,350.0 L610.9,356.4 L654.3,365.0 M567.3,353.2 L610.9,356.2 L654.3,364.1 M567.3,346.2 L610.9,359.1 L654.3,352.9 M567.3,357.8 L610.9,355.6 L654.3,372.3 M567.3,364.4 L610.9,376.6 L654.3,355.8 M567.3,352.2 L610.9,359.0 L654.3,357.6 M567.3,367.5 L610.9,365.1 L654.3,373.8 M567.3,379.4 L610.9,372.6 L654.3,381.3 M567.3,341.6 L610.9,365.1 L654.3,366.6 M567.3,346.8 L610.9,359.4 L654.3,375.3 M567.3,355.4 L610.9,369.6 L654.3,347.8 M567.3,365.7 L610.9,346.8 L654.3,369.4 M567.3,369.0 L610.9,363.7 L654.3,372.2 M567.3,358.5 L610.9,338.3 L654.3,345.7 M567.3,339.7 L610.9,340.4 L654.3,368.9 M567.3,380.4 L610.9,362.8 L654.3,369.0 M567.3,357.5 L610.9,364.0 L654.3,358.4 M567.3,351.5 L610.9,358.3 L654.3,358.7 M567.3,360.3 L610.9,367.4 L654.3,352.5 M567.3,360.8 L610.9,344.0 L654.3,360.1 M567.3,357.3 L610.9,351.5 L654.3,370.4 M567.3,360.1 L610.9,367.1 L654.3,366.4 M567.3,350.1 L610.9,339.6 L654.3,357.9 M567.3,349.6 L610.9,351.5 L654.3,359.6 M567.3,353.8 L610.9,356.3 L654.3,360.1 M567.3,350.6 L610.9,358.3 L654.3,373.1 M567.3,347.2 L610.9,346.1 L654.3,378.5 M567.3,360.6 L610.9,375.1 L654.3,361.5 M567.3,361.3 L610.9,349.8 L654.3,355.6 M567.3,363.3 L610.9,369.4 L654.3,373.2 M567.3,351.4 L610.9,370.1 L654.3,359.2 M567.3,374.0 L610.9,357.7 L654.3,366.1 M567.3,371.3 L610.9,375.1 L654.3,368.6 M567.3,340.6 L610.9,361.8 L654.3,373.5 M567.3,344.0 L610.9,356.0 L654.3,359.2 M567.3,350.9 L610.9,372.9 L654.3,370.1 M567.3,370.9 L610.9,378.5 L654.3,373.1 M567.3,370.1 L610.9,350.8 L654.3,364.6 M567.3,348.5 L610.9,376.4 L654.3,364.8 M567.3,359.7 L610.9,361.9 L654.3,361.8 M567.3,367.2 L610.9,375.1 L654.3,359.2 M567.3,367.0 L610.9,364.0 L654.3,363.9 M567.3,337.8 L610.9,358.7 L654.3,366.5 M567.3,346.1 L610.9,366.3 L654.3,370.4 M567.3,351.9 L610.9,362.9 L654.3,374.2 M567.3,361.0 L610.9,368.1 L654.3,368.9 M567.3,366.5 L610.9,359.9 L654.3,372.0 M567.3,364.9 L610.9,354.7 L654.3,377.2 M567.3,349.4 L610.9,354.3 L654.3,365.8 M567.3,355.5 L610.9,377.0 L654.3,362.4 M567.3,369.8 L610.9,375.4 L654.3,367.0 M567.3,366.4 L610.9,364.4 L654.3,364.3 M567.3,346.1 L610.9,355.1 L654.3,351.5 M567.3,366.6 L610.9,369.4 L654.3,362.1 M567.3,344.5 L610.9,354.1 L654.3,366.6 M567.3,370.2 L610.9,376.4 L654.3,358.6 M567.3,369.2 L610.9,368.9 L654.3,363.1 M567.3,353.0 L610.9,368.3 L654.3,344.4 M567.3,356.1 L610.9,359.6 L654.3,357.0 M567.3,361.6 L610.9,357.3 L654.3,368.2 M567.3,368.1 L610.9,375.6 L654.3,365.2 M567.3,356.9 L610.9,364.2 L654.3,369.8 M567.3,360.8 L610.9,356.0 L654.3,355.8 M567.3,371.0 L610.9,374.1 L654.3,378.9 M567.3,350.1 L610.9,380.9 L654.3,358.3 M567.3,350.3 L610.9,338.7 L654.3,368.0 M567.3,352.8 L610.9,346.7 L654.3,354.8 M567.3,368.6 L610.9,369.9 L654.3,380.4 M567.3,357.2 L610.9,355.9 L654.3,352.0 M567.3,351.7 L610.9,352.1 L654.3,353.2 M567.3,367.2 L610.9,359.3 L654.3,359.1 M567.3,360.0 L610.9,373.0 L654.3,364.8 M567.3,356.2 L610.9,355.6 L654.3,382.6 M567.3,362.1 L610.9,344.5 L654.3,354.3 M567.3,359.6 L610.9,366.3 L654.3,368.8 M567.3,368.9 L610.9,370.9 L654.3,369.6 M567.3,371.5 L610.9,368.1 L654.3,367.4 M567.3,357.5 L610.9,360.6 L654.3,370.6 M567.3,357.1 L610.9,357.2 L654.3,358.7 M567.3,379.2 L610.9,359.8 L654.3,365.1 M567.3,343.7 L610.9,350.8 L654.3,365.9 M567.3,355.6 L610.9,367.4 L654.3,351.6 M567.3,349.9 L610.9,348.5 L654.3,369.2 M567.3,342.6 L610.9,347.3 L654.3,376.1 M567.3,337.4 L610.9,367.8 L654.3,372.2 M567.3,347.3 L610.9,366.5 L654.3,360.0 M567.3,358.5 L610.9,373.1 L654.3,350.1 M567.3,341.2 L610.9,356.7 L654.3,344.7 M567.3,358.0 L610.9,360.4 L654.3,368.6 M567.3,372.8 L610.9,371.1 L654.3,379.8 M567.3,353.3 L610.9,359.9 L654.3,369.7 M567.3,343.5 L610.9,354.6 L654.3,343.1 M567.3,362.3 L610.9,368.1 L654.3,374.3 M567.3,355.3 L610.9,363.6 L654.3,364.4 M567.3,338.2 L610.9,348.7 L654.3,365.3 M567.3,353.4 L610.9,364.0 L654.3,367.1 M567.3,360.3 L610.9,363.0 L654.3,360.1 M567.3,346.5 L610.9,358.8 L654.3,369.8 M567.3,358.0 L610.9,364.8 L654.3,368.2 M567.3,343.7 L610.9,351.1 L654.3,353.7 M567.3,368.4 L610.9,364.0 L654.3,356.5 M567.3,360.3 L610.9,374.1 L654.3,367.5 M567.3,383.4 L610.9,362.0 L654.3,369.6 M567.3,373.3 L610.9,361.1 L654.3,359.5 M567.3,350.7 L610.9,354.0 L654.3,348.2 M567.3,355.4 L610.9,348.3 L654.3,366.8 M567.3,365.6 L610.9,368.5 L654.3,378.3 M567.3,353.5 L610.9,368.3 L654.3,360.6 M567.3,354.4 L610.9,345.8 L654.3,347.2 M567.3,364.1 L610.9,366.6 L654.3,369.2 M567.3,364.9 L610.9,347.5 L654.3,355.8 M567.3,360.3 L610.9,377.1 L654.3,372.6 M567.3,357.6 L610.9,347.4 L654.3,378.0 M567.3,341.7 L610.9,371.6 L654.3,356.9 M567.3,351.2 L610.9,360.4 L654.3,373.6 M567.3,381.8 L610.9,371.4 L654.3,373.7 M567.3,374.2 L610.9,363.5 L654.3,372.2 M567.3,349.8 L610.9,350.8 L654.3,365.0 M567.3,372.2 L610.9,378.6 L654.3,373.3 M567.3,368.0 L610.9,363.5 L654.3,377.5 M567.3,348.0 L610.9,348.2 L654.3,368.3 M567.3,353.9 L610.9,370.9 L654.3,353.5 M567.3,365.6 L610.9,377.0 L654.3,360.2 M567.3,352.9 L610.9,381.6 L654.3,370.9 M567.3,372.5 L610.9,369.9 L654.3,368.7 M567.3,363.2 L610.9,363.3 L654.3,358.7 M567.3,361.7 L610.9,376.6 L654.3,376.6 M567.3,348.7 L610.9,343.3 L654.3,364.5 M567.3,353.9 L610.9,369.6 L654.3,370.1 M567.3,347.3 L610.9,364.6 L654.3,360.6 M567.3,356.7 L610.9,351.4 L654.3,363.1 M567.3,358.8 L610.9,366.2 L654.3,371.2 M567.3,346.7 L610.9,338.6 L654.3,377.5 M567.3,346.6 L610.9,369.1 L654.3,368.1 M567.3,361.6 L610.9,368.5 L654.3,370.6 M567.3,364.9 L610.9,347.8 L654.3,382.1 M567.3,365.4 L610.9,373.0 L654.3,366.3 M567.3,372.6 L610.9,367.9 L654.3,369.4 M567.3,336.3 L610.9,349.8 L654.3,359.3 M567.3,356.9 L610.9,344.8 L654.3,366.5 M567.3,365.8 L610.9,371.6 L654.3,371.9 M567.3,348.2 L610.9,369.6 L654.3,368.2 M567.3,358.4 L610.9,372.2 L654.3,359.6 M567.3,362.5 L610.9,359.7 L654.3,362.3 M567.3,341.5 L610.9,340.8 L654.3,368.8 M567.3,372.8 L610.9,379.1 L654.3,366.0 M567.3,352.2 L610.9,361.2 L654.3,364.3 M567.3,341.1 L610.9,348.9 L654.3,358.1 M567.3,351.2 L610.9,375.4 L654.3,352.1 M567.3,335.0 L610.9,354.2 L654.3,362.5 M567.3,344.2 L610.9,363.3 L654.3,360.3 M567.3,351.2 L610.9,362.3 L654.3,356.7 M567.3,352.1 L610.9,358.9 L654.3,367.5 M567.3,357.5 L610.9,358.5 L654.3,376.6 M567.3,355.2 L610.9,369.6 L654.3,344.5 M567.3,353.9 L610.9,359.0 L654.3,354.5 M567.3,347.5 L610.9,350.3 L654.3,368.5 M567.3,356.3 L610.9,353.8 L654.3,362.9 M567.3,356.6 L610.9,368.0 L654.3,363.3 M567.3,342.5 L610.9,369.5 L654.3,373.8 M567.3,337.0 L610.9,351.3 L654.3,357.9 M567.3,342.6 L610.9,347.7 L654.3,382.6 M567.3,358.7 L610.9,339.4 L654.3,369.6 M567.3,365.8 L610.9,371.4 L654.3,352.9 M567.3,362.8 L610.9,360.4 L654.3,355.5 M567.3,355.9 L610.9,362.0 L654.3,374.9 M567.3,371.6 L610.9,356.9 L654.3,382.5 M567.3,346.0 L610.9,346.9 L654.3,347.2 M567.3,359.9 L610.9,371.6 L654.3,365.3 M567.3,343.5 L610.9,352.9 L654.3,356.2 M567.3,370.9 L610.9,352.0 L654.3,365.2 M567.3,350.1 L610.9,378.7 L654.3,371.2 M567.3,362.7 L610.9,365.4 L654.3,355.7 M567.3,364.2 L610.9,363.6 L654.3,374.6 M567.3,360.4 L610.9,360.1 L654.3,362.4 M567.3,346.9 L610.9,371.4 L654.3,354.5 M567.3,352.9 L610.9,368.9 L654.3,351.3 M567.3,365.3 L610.9,368.8 L654.3,362.9 M567.3,342.2 L610.9,361.7 L654.3,346.2 M567.3,353.4 L610.9,368.8 L654.3,357.1 M567.3,357.2 L610.9,369.5 L654.3,366.8 M567.3,344.1 L610.9,355.0 L654.3,363.4 M567.3,348.9 L610.9,373.4 L654.3,356.4 M567.3,343.1 L610.9,369.2 L654.3,371.4 M567.3,367.4 L610.9,367.9 L654.3,375.9 M567.3,358.1 L610.9,372.5 L654.3,362.9 M567.3,351.6 L610.9,356.4 L654.3,369.0 M567.3,348.6 L610.9,374.8 L654.3,368.9 M567.3,358.8 L610.9,350.8 L654.3,369.5 M567.3,351.1 L610.9,344.9 L654.3,344.4 M567.3,338.7 L610.9,364.2 L654.3,356.7 M567.3,352.3 L610.9,354.5 L654.3,358.8 M567.3,359.2 L610.9,362.8 L654.3,379.2 M567.3,349.9 L610.9,357.1 L654.3,368.5 M567.3,338.0 L610.9,356.2 L654.3,365.3 M567.3,351.3 L610.9,356.4 L654.3,357.1 M567.3,358.8 L610.9,355.7 L654.3,364.6 M567.3,344.5 L610.9,355.3 L654.3,369.0 M567.3,369.1 L610.9,360.9 L654.3,360.1 M567.3,373.9 L610.9,362.1 L654.3,371.4 M567.3,354.7 L610.9,369.5 L654.3,375.2 M567.3,364.3 L610.9,372.6 L654.3,371.6 M567.3,356.7 L610.9,362.0 L654.3,347.0 M567.3,368.2 L610.9,370.3 L654.3,367.9 M567.3,351.0 L610.9,370.4 L654.3,377.0 M567.3,355.0 L610.9,358.2 L654.3,358.9 M567.3,350.7 L610.9,375.1 L654.3,352.9 M567.3,359.2 L610.9,343.2 L654.3,369.6 M567.3,381.5 L610.9,371.6 L654.3,371.4 M567.3,354.3 L610.9,359.6 L654.3,369.4 M567.3,376.2 L610.9,370.4 L654.3,374.5 M567.3,365.1 L610.9,364.6 L654.3,370.7 M567.3,380.1 L610.9,378.0 L654.3,380.7 M567.3,360.7 L610.9,348.1 L654.3,366.8 M567.3,351.8 L610.9,380.9 L654.3,351.9 M567.3,363.8 L610.9,359.6 L654.3,377.8 M567.3,358.2 L610.9,355.1 L654.3,365.9 M567.3,355.4 L610.9,369.3 L654.3,371.5 M567.3,354.9 L610.9,363.6 L654.3,363.3 M567.3,365.2 L610.9,368.9 L654.3,360.7 M567.3,342.4 L610.9,361.6 L654.3,366.7 M567.3,356.5 L610.9,353.5 L654.3,362.4 M567.3,346.0 L610.9,360.7 L654.3,370.8 M567.3,378.5 L610.9,361.4 L654.3,369.8 M567.3,364.9 L610.9,361.7 L654.3,378.8 M567.3,346.6 L610.9,349.3 L654.3,350.7 M567.3,362.7 L610.9,350.8 L654.3,359.2 M567.3,340.4 L610.9,373.3 L654.3,351.0 M567.3,343.5 L610.9,360.8 L654.3,351.7 M567.3,356.5 L610.9,348.4 L654.3,367.3 M567.3,357.3 L610.9,373.7 L654.3,345.6 M567.3,366.9 L610.9,375.7 L654.3,377.0 M567.3,356.9 L610.9,361.8 L654.3,361.0 M567.3,340.7 L610.9,347.7 L654.3,373.7 M567.3,355.8 L610.9,363.8 L654.3,357.6 M567.3,356.4 L610.9,349.5 L654.3,363.7 M567.3,336.3 L610.9,364.8 L654.3,347.3 M567.3,347.7 L610.9,366.4 L654.3,374.8 M567.3,364.9 L610.9,361.4 L654.3,352.0 M567.3,373.8 L610.9,370.6 L654.3,382.7 M567.3,349.1 L610.9,358.4 L654.3,362.3 M567.3,349.6 L610.9,357.1 L654.3,348.8 M567.3,360.9 L610.9,369.3 L654.3,366.3 M567.3,358.2 L610.9,350.6 L654.3,369.2 M567.3,363.5 L610.9,371.0 L654.3,374.6 M567.3,379.3 L610.9,368.4 L654.3,367.6 M567.3,355.9 L610.9,369.4 L654.3,356.0 M567.3,349.9 L610.9,357.7 L654.3,356.8 M567.3,358.9 L610.9,359.2 L654.3,360.7 M567.3,371.1 L610.9,371.8 L654.3,376.5 M567.3,357.9 L610.9,364.5 L654.3,361.7 M567.3,374.1 L610.9,365.9 L654.3,378.0 M567.3,364.5 L610.9,351.8 L654.3,370.9 M567.3,346.1 L610.9,359.3 L654.3,364.5 M567.3,362.0 L610.9,377.9 L654.3,370.1 M567.3,356.3 L610.9,348.8 L654.3,357.8 M567.3,348.7 L610.9,368.6 L654.3,369.6 M567.3,353.7 L610.9,356.4 L654.3,374.3 M567.3,346.4 L610.9,365.1 L654.3,359.2 M567.3,363.0 L610.9,357.4 L654.3,358.8 M567.3,346.6 L610.9,367.7 L654.3,360.4 M567.3,333.1 L610.9,354.6 L654.3,352.9 M567.3,356.4 L610.9,367.1 L654.3,348.6 M567.3,340.5 L610.9,363.6 L654.3,354.9 M567.3,337.3 L610.9,351.5 L654.3,358.0 M567.3,346.9 L610.9,351.2 L654.3,373.4 M567.3,366.7 L610.9,350.3 L654.3,373.7 M567.3,358.2 L610.9,369.0 L654.3,347.2 M567.3,371.3 L610.9,365.4 L654.3,373.5 M567.3,361.0 L610.9,375.4 L654.3,374.1 M567.3,360.0 L610.9,361.0 L654.3,383.8 M567.3,356.8 L610.9,370.7 L654.3,365.6 M567.3,362.7 L610.9,365.5 L654.3,369.4 M567.3,352.7 L610.9,361.0 L654.3,380.0 M567.3,376.4 L610.9,378.5 L654.3,354.0 M567.3,361.9 L610.9,366.0 L654.3,363.6 M567.3,350.8 L610.9,365.5 L654.3,362.3 M567.3,380.3 L610.9,367.0 L654.3,367.3 M567.3,377.0 L610.9,360.3 L654.3,353.5 M567.3,350.3 L610.9,367.2 L654.3,369.1 M567.3,362.1 L610.9,357.7 L654.3,375.2 M567.3,374.2 L610.9,367.0 L654.3,378.4 M567.3,339.3 L610.9,366.8 L654.3,357.0 M567.3,360.5 L610.9,378.0 L654.3,371.4 M567.3,380.0 L610.9,366.5 L654.3,382.1 M567.3,352.3 L610.9,370.8 L654.3,365.5 M567.3,351.2 L610.9,355.2 L654.3,363.4 M567.3,381.2 L610.9,354.2 L654.3,374.5 M567.3,342.7 L610.9,370.4 L654.3,353.0 M567.3,343.2 L610.9,347.0 L654.3,372.7 M567.3,360.8 L610.9,348.9 L654.3,374.5 M567.3,350.3 L610.9,362.2 L654.3,377.7 M567.3,347.4 L610.9,349.0 L654.3,356.0 M567.3,355.1 L610.9,352.2 L654.3,383.9 M567.3,358.4 L610.9,346.5 L654.3,361.1 M567.3,346.0 L610.9,361.4 L654.3,358.4 M567.3,370.9 L610.9,362.1 L654.3,367.1 M567.3,362.1 L610.9,364.5 L654.3,366.1 M567.3,355.7 L610.9,354.8 L654.3,355.1 M567.3,381.9 L610.9,368.2 L654.3,362.5 M567.3,370.8 L610.9,368.8 L654.3,346.7 M567.3,364.9 L610.9,355.5 L654.3,365.5 M567.3,361.9 L610.9,355.4 L654.3,360.6 M567.3,354.6 L610.9,367.0 L654.3,358.3 M567.3,344.2 L610.9,350.9 L654.3,351.5 M567.3,352.8 L610.9,356.8 L654.3,372.6 M567.3,341.0 L610.9,367.6 L654.3,368.7 M567.3,365.8 L610.9,372.5 L654.3,355.2 M567.3,360.2 L610.9,366.1 L654.3,369.0 M567.3,357.9 L610.9,350.0 L654.3,351.0 M567.3,362.7 L610.9,347.8 L654.3,361.3 M567.3,354.4 L610.9,349.0 L654.3,363.2 M567.3,354.2 L610.9,360.1 L654.3,375.5 M567.3,371.8 L610.9,376.7 L654.3,378.5 M567.3,364.4 L610.9,370.2 L654.3,356.9 M567.3,357.7 L610.9,355.2 L654.3,362.2 M567.3,367.5 L610.9,368.7 L654.3,383.2 M567.3,377.1 L610.9,365.5 L654.3,372.3 M567.3,357.1 L610.9,353.2 L654.3,378.6 M567.3,351.5 L610.9,375.8 L654.3,376.4 M567.3,361.6 L610.9,348.0 L654.3,359.6 M567.3,360.2 L610.9,357.9 L654.3,365.7 M567.3,362.7 L610.9,369.8 L654.3,363.1 M567.3,359.5 L610.9,356.2 L654.3,371.7 M567.3,349.0 L610.9,364.3 L654.3,351.5 M567.3,347.1 L610.9,366.4 L654.3,340.1 M567.3,354.1 L610.9,368.4 L654.3,376.7 M567.3,357.1 L610.9,361.5 L654.3,372.9 M567.3,370.3 L610.9,371.7 L654.3,380.2 M567.3,365.4 L610.9,374.1 L654.3,364.1 M567.3,358.7 L610.9,376.2 L654.3,355.6 M567.3,359.8 L610.9,367.2 L654.3,375.4 M567.3,351.6 L610.9,356.5 L654.3,369.9 M567.3,340.2 L610.9,366.1 L654.3,348.5 M567.3,356.3 L610.9,375.8 L654.3,367.9 M567.3,352.2 L610.9,365.3 L654.3,363.1 M567.3,359.3 L610.9,359.5 L654.3,372.6 M567.3,337.7 L610.9,353.4 L654.3,345.0 M567.3,360.9 L610.9,362.1 L654.3,376.2 M567.3,357.7 L610.9,348.4 L654.3,362.8 M567.3,366.2 L610.9,371.1 L654.3,362.9 M567.3,360.0 L610.9,344.1 L654.3,364.2 M567.3,357.8 L610.9,356.0 L654.3,350.0 M567.3,375.0 L610.9,375.4 L654.3,378.0 M567.3,380.0 L610.9,371.8 L654.3,373.9 M567.3,348.7 L610.9,353.9 L654.3,356.4 M567.3,351.4 L610.9,365.1 L654.3,335.9 M567.3,341.6 L610.9,360.8 L654.3,369.2 M567.3,352.4 L610.9,351.4 L654.3,359.3 M567.3,349.4 L610.9,350.7 L654.3,358.8 M567.3,347.8 L610.9,364.8 L654.3,360.7 M567.3,334.5 L610.9,363.1 L654.3,358.0 M567.3,359.1 L610.9,364.0 L654.3,358.6 M567.3,360.3 L610.9,357.2 L654.3,354.3 M567.3,365.6 L610.9,361.3 L654.3,366.8 M567.3,341.0 L610.9,356.4 L654.3,353.8 M567.3,353.8 L610.9,362.9 L654.3,376.2 M567.3,358.0 L610.9,371.5 L654.3,351.7 M567.3,353.0 L610.9,366.9 L654.3,367.6 M567.3,345.7 L610.9,372.6 L654.3,359.9 M567.3,356.4 L610.9,371.2 L654.3,355.1 M567.3,362.5 L610.9,354.3 L654.3,365.3 M567.3,364.9 L610.9,366.3 L654.3,358.3 M567.3,368.3 L610.9,374.2 L654.3,370.0 M567.3,351.9 L610.9,355.1 L654.3,373.0 M567.3,371.1 L610.9,368.2 L654.3,372.2 M567.3,354.9 L610.9,376.7 L654.3,369.6 M567.3,363.1 L610.9,372.1 L654.3,382.4 M567.3,363.5 L610.9,352.4 L654.3,366.3 M567.3,343.3 L610.9,346.2 L654.3,359.7 M567.3,355.8 L610.9,361.7 L654.3,363.5 M567.3,367.7 L610.9,369.0 L654.3,379.2 M567.3,348.7 L610.9,359.2 L654.3,382.0 M567.3,364.5 L610.9,353.5 L654.3,377.9 M567.3,370.3 L610.9,376.3 L654.3,375.1 M567.3,357.1 L610.9,364.5 L654.3,364.0 M567.3,364.5 L610.9,359.0 L654.3,354.5 M567.3,367.8 L610.9,363.6 L654.3,366.0 M567.3,356.2 L610.9,362.8 L654.3,360.7 M567.3,360.4 L610.9,369.9 L654.3,373.9 M567.3,350.0 L610.9,365.3 L654.3,380.2 M567.3,363.2 L610.9,369.6 L654.3,359.2 M567.3,347.0 L610.9,369.8 L654.3,350.4 M567.3,354.3 L610.9,347.1 L654.3,369.4 M567.3,350.9 L610.9,353.7 L654.3,348.5 M567.3,372.0 L610.9,367.8 L654.3,369.1 M567.3,360.2 L610.9,372.0 L654.3,368.8 M567.3,357.1 L610.9,344.4 L654.3,364.9 M567.3,346.5 L610.9,364.0 L654.3,359.7 M567.3,358.3 L610.9,362.2 L654.3,379.4 M567.3,358.0 L610.9,338.3 L654.3,365.7 M567.3,372.1 L610.9,345.7 L654.3,365.8 M567.3,354.1 L610.9,376.1 L654.3,367.1 M567.3,360.5 L610.9,365.2 L654.3,375.9 M567.3,350.8 L610.9,373.0 L654.3,352.5 M567.3,358.1 L610.9,367.1 L654.3,380.4 M567.3,354.2 L610.9,358.3 L654.3,378.4 M567.3,339.7 L610.9,359.2 L654.3,374.2 M567.3,344.8 L610.9,368.6 L654.3,369.9 M567.3,373.5 L610.9,377.0 L654.3,373.4 M567.3,369.9 L610.9,364.4 L654.3,379.4 M567.3,359.1 L610.9,357.7 L654.3,369.8 M567.3,357.1 L610.9,359.7 L654.3,374.0 M567.3,352.4 L610.9,358.6 L654.3,369.3 M567.3,371.7 L610.9,355.7 L654.3,360.1 M567.3,356.2 L610.9,352.4 L654.3,351.6 M567.3,359.8 L610.9,358.4 L654.3,361.1 M567.3,353.0 L610.9,362.7 L654.3,368.6 M567.3,349.9 L610.9,358.5 L654.3,347.8 M567.3,353.2 L610.9,360.7 L654.3,376.1 M567.3,359.5 L610.9,361.0 L654.3,367.7 M567.3,356.9 L610.9,347.7 L654.3,376.4 M567.3,352.7 L610.9,373.7 L654.3,355.4 M567.3,360.8 L610.9,364.1 L654.3,363.5 M567.3,365.4 L610.9,371.9 L654.3,359.1 M567.3,373.6 L610.9,377.1 L654.3,363.7 M567.3,350.5 L610.9,368.4 L654.3,370.8 M567.3,357.1 L610.9,345.3 L654.3,351.7 M567.3,361.6 L610.9,369.6 L654.3,368.0 M567.3,377.4 L610.9,367.0 L654.3,376.1 M567.3,346.9 L610.9,367.3 L654.3,359.3 M567.3,364.9 L610.9,370.6 L654.3,351.5 M567.3,368.0 L610.9,367.5 L654.3,365.5 M567.3,337.6 L610.9,353.7 L654.3,363.4 M567.3,355.3 L610.9,345.8 L654.3,359.8 M567.3,351.1 L610.9,339.6 L654.3,371.9 M567.3,345.6 L610.9,367.0 L654.3,349.9 M567.3,352.4 L610.9,355.1 L654.3,361.3 M567.3,335.0 L610.9,354.6 L654.3,359.5 M567.3,351.5 L610.9,351.9 L654.3,361.8 M567.3,346.7 L610.9,353.4 L654.3,367.7 M567.3,356.2 L610.9,352.7 L654.3,373.7 M567.3,357.5 L610.9,370.0 L654.3,368.1 M567.3,374.9 L610.9,367.5 L654.3,377.3 M567.3,346.2 L610.9,362.4 L654.3,342.5 M567.3,345.7 L610.9,366.0 L654.3,342.2 M567.3,356.8 L610.9,358.9 L654.3,377.5 M567.3,359.1 L610.9,369.7 L654.3,378.4 M567.3,370.2 L610.9,354.3 L654.3,375.0 M567.3,358.5 L610.9,370.9 L654.3,370.4 M567.3,364.2 L610.9,366.6 L654.3,367.8 M567.3,349.2 L610.9,361.1 L654.3,364.6 M567.3,367.8 L610.9,361.1 L654.3,365.3 M567.3,362.0 L610.9,381.9 L654.3,368.6 M567.3,381.4 L610.9,357.2 L654.3,373.5 M567.3,344.9 L610.9,361.3 L654.3,353.9 M567.3,340.4 L610.9,350.0 L654.3,370.4 M567.3,375.5 L610.9,374.7 L654.3,370.4 M567.3,351.3 L610.9,373.2 L654.3,363.6 M567.3,360.8 L610.9,362.9 L654.3,365.4 M567.3,370.3 L610.9,363.5 L654.3,351.7 M567.3,355.7 L610.9,377.3 L654.3,369.5 M567.3,339.3 L610.9,360.4 L654.3,359.8 M567.3,356.0 L610.9,370.3 L654.3,363.1 M567.3,353.3 L610.9,341.3 L654.3,379.8 M567.3,356.1 L610.9,360.5 L654.3,362.5 M567.3,358.0 L610.9,349.8 L654.3,355.9 M567.3,367.0 L610.9,375.3 L654.3,369.9 M567.3,375.7 L610.9,368.7 L654.3,365.4" fill="none" stroke="#3a78c6" stroke-width="0.5" stroke-opacity="0.14"/>
<line x1="567.30" y1="329.30" x2="567.30" y2="383.70" stroke="#3a78c6" stroke-width="1.3" stroke-opacity="0.9"/>
<line x1="610.90" y1="335.70" x2="610.90" y2="382.10" stroke="#3a78c6" stroke-width="1.3" stroke-opacity="0.9"/>
<line x1="654.30" y1="331.70" x2="654.30" y2="384.50" stroke="#3a78c6" stroke-width="1.3" stroke-opacity="0.9"/>
<polyline points="567.3,357.9 610.9,362.9 654.3,365.6" fill="none" stroke="#dcdcdc" stroke-width="1.6" stroke-dasharray="3,2"/>
<circle cx="567.30" cy="357.94" r="3.20" fill="#9a9a9a"/>
<circle cx="610.90" cy="362.90" r="3.20" fill="#9a9a9a"/>
<circle cx="654.30" cy="365.62" r="3.20" fill="#9a9a9a"/>
<text x="564.60" y="335.30" font-size="5.8" text-anchor="end" fill="#444">40</text>
<text x="564.60" y="351.30" font-size="5.8" text-anchor="end" fill="#444">30</text>
<text x="564.60" y="367.30" font-size="5.8" text-anchor="end" fill="#444">20</text>
<text x="564.60" y="383.30" font-size="5.8" text-anchor="end" fill="#444">10</text>
<text transform="translate(551.3,357.5) rotate(-90)" font-size="7" text-anchor="middle" fill="#231f20" textLength="53" lengthAdjust="spacingAndGlyphs">Network strength</text>
<text x="567.30" y="393.60" font-size="7" text-anchor="middle" fill="#231f20" textLength="19.20" lengthAdjust="spacingAndGlyphs">Age 14</text>
<text x="610.90" y="393.60" font-size="7" text-anchor="middle" fill="#231f20" textLength="19.20" lengthAdjust="spacingAndGlyphs">Age 19</text>
<text x="654.30" y="393.60" font-size="7" text-anchor="middle" fill="#231f20" textLength="19.20" lengthAdjust="spacingAndGlyphs">Age 23</text>
<circle cx="654.30" cy="325.00" r="0.65" fill="#3a78c6" fill-opacity="0.8"/>
<circle cx="567.30" cy="385.80" r="0.60" fill="#3a78c6" fill-opacity="0.6"/>
</svg></body></html>
